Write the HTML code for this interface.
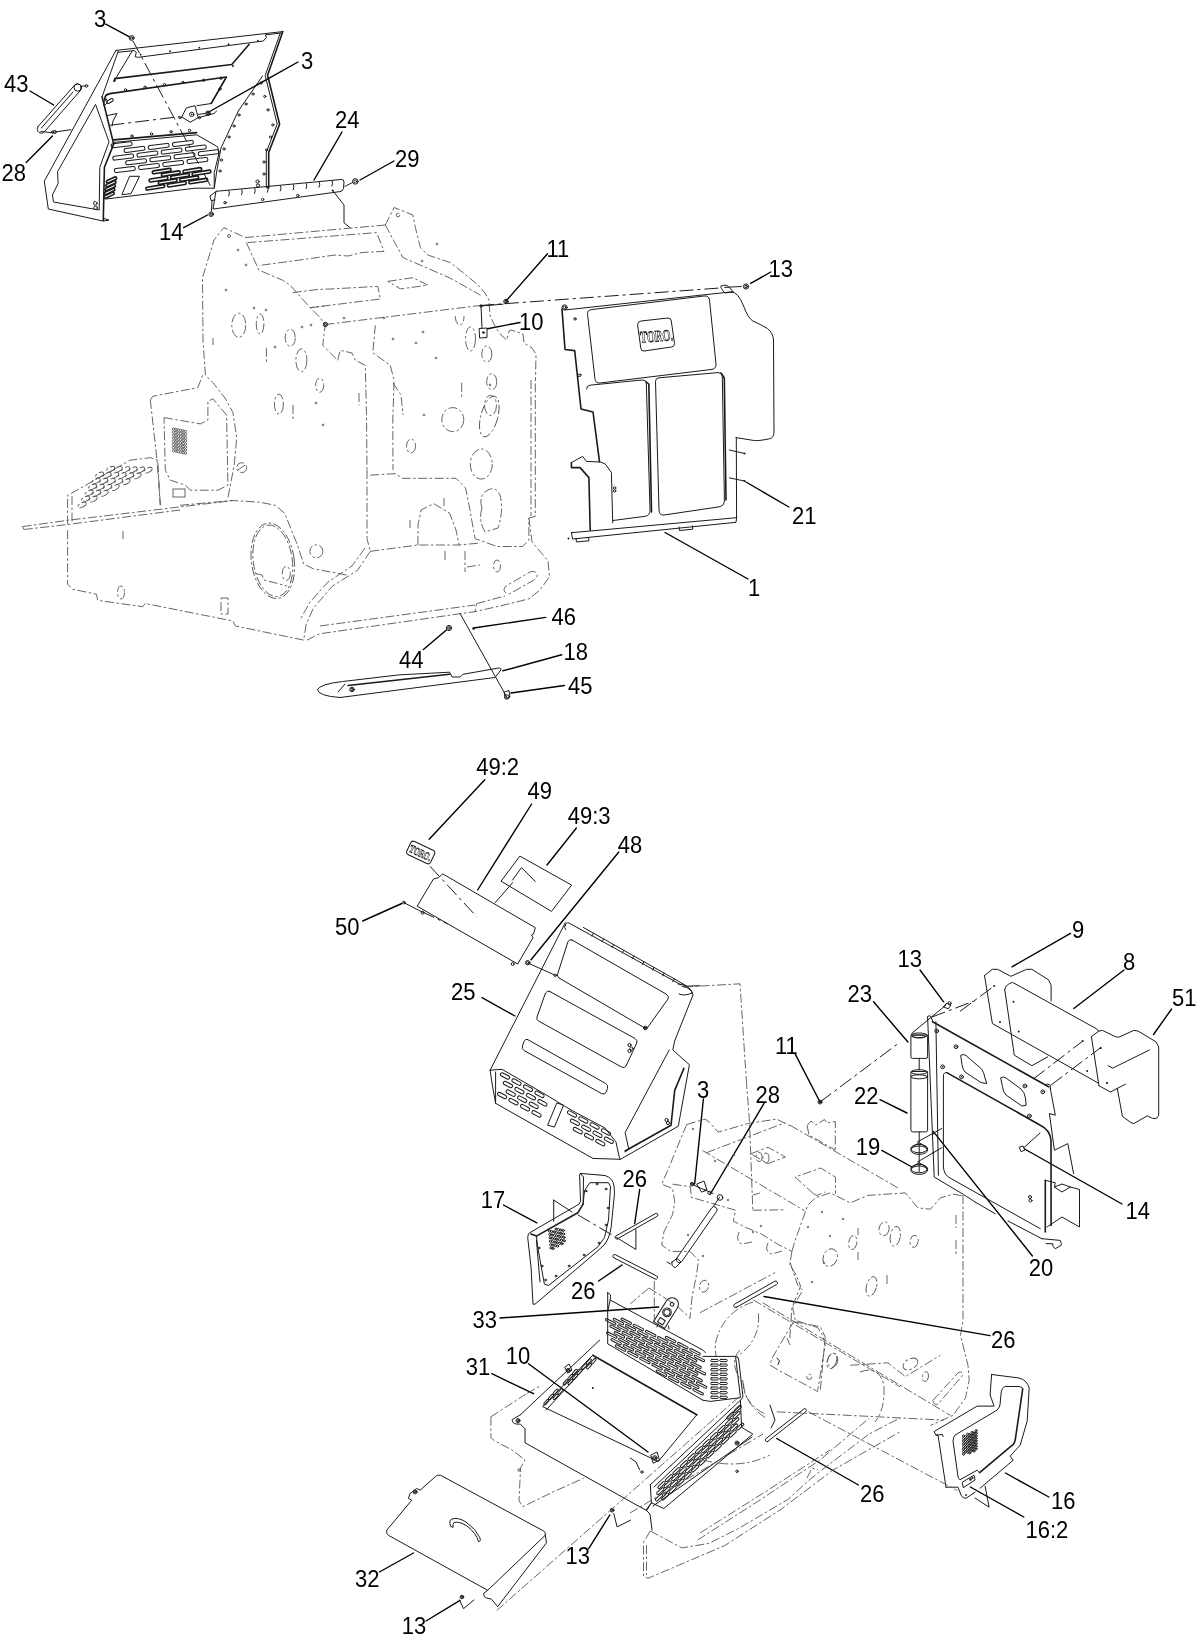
<!DOCTYPE html>
<html><head><meta charset="utf-8"><title>Parts diagram</title><style>
html,body{margin:0;padding:0;background:#fff;overflow:hidden}
svg{display:block;will-change:transform}
.k{fill:none;stroke:#1a1a1a;stroke-width:1;stroke-linejoin:round;stroke-linecap:round}
.kt{fill:none;stroke:#1a1a1a;stroke-width:1.6;stroke-linejoin:round;stroke-linecap:round}
.g{fill:none;stroke:#555;stroke-width:0.9;stroke-dasharray:9 2.5 2.5 2.5}
.gs{fill:none;stroke:#555;stroke-width:0.9}
.d{fill:none;stroke:#1a1a1a;stroke-width:1;stroke-dasharray:14 4 3 4}
.L{fill:none;stroke:#000;stroke-width:1.4;stroke-linecap:round}
.f{fill:#1a1a1a;stroke:none}
text{font-family:"Liberation Sans",sans-serif;font-size:22px;fill:#000}
</style></head>
<body><svg width="1198" height="1642" viewBox="0 0 1198 1642">
<line class="L" x1="105.8" y1="24.2" x2="129" y2="36.7"/>
<line class="L" x1="30" y1="91" x2="53.7" y2="105"/>
<line class="L" x1="26.2" y1="162.5" x2="52.5" y2="136"/>
<line class="L" x1="183.7" y1="227.6" x2="207.5" y2="215"/>
<line class="L" x1="298" y1="62" x2="207" y2="113"/>
<line class="L" x1="342" y1="132" x2="314" y2="180"/>
<line class="L" x1="394" y1="161" x2="360" y2="180"/>
<line class="L" x1="547.5" y1="253.7" x2="506" y2="301"/>
<line class="L" x1="520" y1="322.5" x2="487.5" y2="328.7"/>
<line class="L" x1="770.8" y1="272" x2="750.7" y2="283.4"/>
<line class="L" x1="788.9" y1="507" x2="746" y2="482"/>
<line class="L" x1="748" y1="579" x2="665" y2="532.5"/>
<line class="L" x1="545.7" y1="617.4" x2="473.6" y2="628"/>
<line class="L" x1="561.7" y1="654.8" x2="503" y2="670.8"/>
<line class="L" x1="564.4" y1="685.5" x2="511" y2="693"/>
<line class="L" x1="423.4" y1="649.5" x2="446.4" y2="630"/>
<path class="k" d="M116.0,50.4 L44.3,181.2 L48.3,209.0 L103.3,221.1 L109.0,220.0 L103.6,218.5" />
<path class="k" d="M118.3,51.0 L102.1,96.7" />
<path class="kt" d="M102.1,96.7 L113.7,144.1 L104.4,167.3 L103.3,220.5" />
<path class="k" d="M95.7,104.8 L109.0,141.8 L99.8,167.3 L99.2,210.0 L53.5,202.0 L52.4,195.0 L58.1,183.5 L57.6,172.0 Z" />
<circle class="k" cx="95.3" cy="203.3" r="1.8"/>
<circle class="k" cx="95.6" cy="207.8" r="1.8"/>
<path class="k" d="M116.0,50.4 L282.8,31.6" />
<path class="k" d="M118.0,52.3 L134.2,50.6 L136.3,52.2 L135.3,56.9 L138.5,57.3 L263.3,41.0 L266.3,37.5 L265.5,34.8 L281.2,33.0" />
<circle class="f" cx="140.7" cy="54.7" r="0.9"/>
<circle class="f" cx="170.0" cy="51.18" r="0.9"/>
<circle class="f" cx="199.29999999999998" cy="47.660000000000004" r="0.9"/>
<circle class="f" cx="228.6" cy="44.14" r="0.9"/>
<circle class="f" cx="257.9" cy="40.620000000000005" r="0.9"/>
<path class="kt" d="M282.8,31.6 L267.6,75.3 L279.6,124.2 L268.7,152.4 L268.7,188.0" />
<path class="k" d="M280.3,33.0 L265.2,75.5 L277.2,124.0 L266.3,152.2 L266.3,188.0" />
<path class="k" d="M262.5,76.0 L238.3,111.0 L221.0,148.0 L216.6,172.0 L214.5,187.0" />
<circle class="k" cx="261" cy="83" r="1.1"/>
<circle class="k" cx="253" cy="94" r="1.1"/>
<circle class="k" cx="246" cy="104" r="1.1"/>
<circle class="k" cx="239" cy="115" r="1.1"/>
<circle class="k" cx="234" cy="126" r="1.1"/>
<circle class="k" cx="229" cy="137" r="1.1"/>
<circle class="k" cx="224" cy="149" r="1.1"/>
<circle class="k" cx="221.5" cy="160" r="1.1"/>
<circle class="k" cx="220" cy="171" r="1.1"/>
<circle class="k" cx="264.8" cy="96.4" r="1.1"/>
<circle class="k" cx="268.0" cy="109.9" r="1.1"/>
<circle class="k" cx="272.8" cy="124.9" r="1.1"/>
<circle class="k" cx="270.5" cy="137" r="1.1"/>
<circle class="k" cx="266.5" cy="150" r="1.1"/>
<circle class="k" cx="264.0" cy="162" r="1.1"/>
<circle class="k" cx="264.0" cy="174" r="1.1"/>
<circle class="k" cx="257.5" cy="181.5" r="1.6"/>
<circle class="k" cx="258" cy="185.5" r="1.6"/>
<path class="k" d="M132.2,51.0 L113.7,81.7" />
<path class="kt" d="M114.7,78.6 L231.8,64.5 L249.2,44.3" />
<circle class="f" cx="114.5" cy="80.5" r="1.2"/>
<circle class="f" cx="233" cy="66" r="1.0"/>
<path class="kt" d="M104.5,100 Q104.5,94.5 110,93.6 L226.4,77 L211.2,103.5" />
<circle class="k" cx="125.5" cy="89.9" r="1.2"/>
<circle class="k" cx="145" cy="87.3" r="1.2"/>
<circle class="k" cx="164.5" cy="84.7" r="1.2"/>
<circle class="k" cx="183" cy="82.5" r="1.2"/>
<circle class="k" cx="203.6" cy="80.3" r="1.2"/>
<circle class="k" cx="221" cy="78.2" r="1.2"/>
<circle class="k" cx="219.9" cy="89" r="1.2"/>
<path class="k" d="M106,99 Q103,104 104,106 L107,103 Q108,99 106,99 Z" />
<rect class="k" x="106.5" y="99.5" width="7" height="3" rx="1.5" transform="rotate(-30 110.0 101.0)"/>
<path class="k" d="M181.9,116.6 L186.3,107.9 L195.0,105.7 L198.2,117.7 L190.6,122.0 Z" />
<circle class="k" cx="191.7" cy="114.4" r="2.2"/>
<circle class="f" cx="191.7" cy="114.4" r="0.8"/>
<circle class="k" cx="180" cy="117.7" r="1.1"/>
<circle class="k" cx="199.5" cy="117.7" r="1.1"/>
<path class="k" d="M211.2,103.5 L197.0,105.7" />
<path class="k" d="M198.2,117.7 L214.0,113.5 L216.6,111.0" />
<path class="d" d="M110.3,125.2 L179.7,116.6" />
<path class="k" d="M107.5,115.5 L117.0,113.5 L113.0,121.0 L112.0,126.0" />
<path class="kt" d="M113.7,139.9 L196.7,132.6" />
<path class="k" d="M113.7,142.4 L196.7,134.8 L217.7,146.9 L218.9,153.9 L214.2,172.6 L214.2,187.8" />
<path class="k" d="M106.0,199.0 L195.0,188.2 L214.5,188.2" />
<circle class="k" cx="132" cy="136.1" r="1.2"/>
<circle class="k" cx="151.5" cy="134" r="1.2"/>
<circle class="k" cx="171" cy="131.8" r="1.2"/>
<circle class="k" cx="189.5" cy="130.5" r="1.2"/>
<rect class="k" x="111.1" y="142.7" width="21" height="4.0" rx="2.0" transform="rotate(-7 121.6 144.7)"/>
<rect class="k" x="124.0" y="147.4" width="21" height="4.0" rx="2.0" transform="rotate(-7 134.5 149.4)"/>
<rect class="k" x="148.2" y="144.4" width="21" height="4.0" rx="2.0" transform="rotate(-7 158.7 146.4)"/>
<rect class="k" x="172.4" y="141.4" width="21" height="4.0" rx="2.0" transform="rotate(-7 182.9 143.4)"/>
<rect class="k" x="112.7" y="155.1" width="21" height="4.0" rx="2.0" transform="rotate(-7 123.2 157.1)"/>
<rect class="k" x="136.9" y="152.1" width="21" height="4.0" rx="2.0" transform="rotate(-7 147.4 154.1)"/>
<rect class="k" x="161.1" y="149.1" width="21" height="4.0" rx="2.0" transform="rotate(-7 171.6 151.1)"/>
<rect class="k" x="185.3" y="146.1" width="21" height="4.0" rx="2.0" transform="rotate(-7 195.8 148.1)"/>
<rect class="k" x="125.6" y="159.8" width="21" height="4.0" rx="2.0" transform="rotate(-7 136.1 161.8)"/>
<rect class="k" x="149.8" y="156.8" width="21" height="4.0" rx="2.0" transform="rotate(-7 160.3 158.8)"/>
<rect class="k" x="174.0" y="153.8" width="21" height="4.0" rx="2.0" transform="rotate(-7 184.5 155.8)"/>
<rect class="k" x="198.2" y="150.8" width="21" height="4.0" rx="2.0" transform="rotate(-7 208.7 152.8)"/>
<rect class="k" x="114.3" y="167.5" width="21" height="4.0" rx="2.0" transform="rotate(-7 124.8 169.5)"/>
<rect class="k" x="138.5" y="164.5" width="21" height="4.0" rx="2.0" transform="rotate(-7 149.0 166.5)"/>
<rect class="k" x="162.7" y="161.5" width="21" height="4.0" rx="2.0" transform="rotate(-7 173.2 163.5)"/>
<rect class="k" x="186.9" y="158.5" width="21" height="4.0" rx="2.0" transform="rotate(-7 197.4 160.5)"/>
<rect class="kt" x="152.2" y="169.6" width="19" height="2.9" rx="1.45" transform="rotate(-9 161.7 171.0)"/>
<rect class="kt" x="161.3" y="172.1" width="19" height="2.9" rx="1.45" transform="rotate(-9 170.8 173.5)"/>
<rect class="kt" x="182.8" y="168.9" width="19" height="2.9" rx="1.45" transform="rotate(-9 192.3 170.3)"/>
<rect class="kt" x="149.0" y="177.8" width="19" height="2.9" rx="1.45" transform="rotate(-9 158.5 179.2)"/>
<rect class="kt" x="170.5" y="174.6" width="19" height="2.9" rx="1.45" transform="rotate(-9 180.0 176.0)"/>
<rect class="kt" x="192.0" y="171.4" width="19" height="2.9" rx="1.45" transform="rotate(-9 201.5 172.8)"/>
<rect class="kt" x="158.2" y="180.2" width="19" height="2.9" rx="1.45" transform="rotate(-9 167.7 181.7)"/>
<rect class="kt" x="179.7" y="177.1" width="19" height="2.9" rx="1.45" transform="rotate(-9 189.2 178.5)"/>
<rect class="kt" x="145.8" y="185.9" width="19" height="2.9" rx="1.45" transform="rotate(-9 155.3 187.4)"/>
<rect class="kt" x="167.3" y="182.8" width="19" height="2.9" rx="1.45" transform="rotate(-9 176.8 184.2)"/>
<rect class="kt" x="188.8" y="179.6" width="19" height="2.9" rx="1.45" transform="rotate(-9 198.3 181.0)"/>
<rect class="kt" x="106.0" y="178.7" width="11" height="2.6" rx="1.3" transform="rotate(-25 111.5 180.0)"/>
<rect class="kt" x="105.4" y="182.5" width="11" height="2.6" rx="1.3" transform="rotate(-25 110.9 183.8)"/>
<rect class="kt" x="104.8" y="186.3" width="11" height="2.6" rx="1.3" transform="rotate(-25 110.3 187.6)"/>
<rect class="kt" x="104.2" y="190.1" width="11" height="2.6" rx="1.3" transform="rotate(-25 109.7 191.4)"/>
<rect class="kt" x="103.6" y="193.9" width="11" height="2.6" rx="1.3" transform="rotate(-25 109.1 195.2)"/>
<path class="k" d="M130.0,176.3 L139.6,176.3 L131.0,193.6 L122.2,194.7 Z" />
<path class="k" d="M38,126.6 L75,84.7 A4,4 0 0 1 81,89.8 L44.6,131.5 A3.5,3.5 0 0 1 38,126.6 Z" />
<circle class="k" cx="77.6" cy="87.6" r="3.6"/>
<path class="k" d="M41.4,128.0 L73.0,92.0" />
<path class="k" d="M81.0,86.2 L86.0,86.0" />
<circle class="k" cx="86.5" cy="85.9" r="1.3"/>
<path class="k" d="M41.0,131.5 L50.0,132.5 L54.7,132.0 L70.9,129.7" />
<circle class="k" cx="54.7" cy="132" r="1.6"/>
<circle class="k" cx="52.5" cy="132.2" r="1.2"/>
<path class="k" d="M216.3,191.3 L341,179.5 Q344,179.2 344,182 L343.5,188.5 Q343,191.2 340,191.6 L213.4,209 Z" />
<path class="k" d="M229.0,190.9 q1.2,2 -0.3,5" />
<path class="k" d="M241.9,189.7 q1.2,2 -0.3,5" />
<path class="k" d="M254.8,188.5 q1.2,2 -0.3,5" />
<path class="k" d="M267.7,187.2 q1.2,2 -0.3,5" />
<path class="k" d="M280.6,186.0 q1.2,2 -0.3,5" />
<path class="k" d="M293.5,184.8 q1.2,2 -0.3,5" />
<path class="k" d="M306.4,183.6 q1.2,2 -0.3,5" />
<path class="k" d="M319.3,182.3 q1.2,2 -0.3,5" />
<path class="k" d="M332.2,181.1 q1.2,2 -0.3,5" />
<circle class="k" cx="225" cy="202.7" r="1.2"/>
<circle class="k" cx="262.6" cy="199.5" r="1.2"/>
<circle class="k" cx="297.7" cy="195.5" r="1.2"/>
<circle class="f" cx="332.7" cy="190.6" r="1.0"/>
<path class="k" d="M332.7,190.6 L337.0,196.0 L344.0,205.0 L344.0,222.7 L350.0,227.7" />
<path class="k" d="M345.0,186.4 L352.5,182.5" />
<circle class="k" cx="355.3" cy="181.4" r="2.8"/>
<circle class="k" cx="355.3" cy="181.4" r="1.4"/>
<path class="k" d="M216.3,191.3 L210.0,196.0 L211.0,200.5 L215.0,200.0" />
<path class="k" d="M212.0,200.5 L211.5,211.0" />
<circle class="k" cx="211.2" cy="214.2" r="2.3"/>
<circle class="k" cx="211.2" cy="214.2" r="1.15"/>
<circle class="k" cx="131.7" cy="38" r="2.4"/>
<circle class="k" cx="131.7" cy="38" r="1.2"/>
<path class="d" d="M133,41 L212.3,189.3" />
<path class="k" d="M198.2,114.4 L205.0,113.5" />
<circle class="k" cx="208" cy="113.3" r="2.3"/>
<circle class="k" cx="208" cy="113.3" r="1.15"/>
<path class="g" d="M242.6,236.3 L223.8,227.6 L214.0,240.0 L206.3,265.1 L202.5,277.7 L203.0,340.0 L205.4,375.0 L212.9,382.6 L225.0,398.0 L232.9,412.6 L236.7,437.6 L234.2,465.2 L227.9,497.8" />
<circle class="g" cx="229" cy="236" r="1.5"/>
<path class="g" d="M245.0,237.6 L385.3,225.0" />
<path class="g" d="M247.6,242.6 L376.6,232.6 L384.0,251.4 L362.0,252.5 L348.0,256.0 L335.0,255.0 L300.0,260.0 L259.0,265.5" />
<path class="g" d="M246.3,242.6 L258.9,270.1 L282.6,280.2 L290.2,285.2 L310.2,307.7 L320.2,317.7 L325.2,325.2 L322.7,345.3 L337.7,360.3" />
<path class="g" d="M292.7,292.7 L317.0,289.5 L330.0,289.0 L377.8,286.4 L380.3,299.0 L310.2,307.7" />
<path class="g" d="M387.8,281.4 L413.0,277.7 L427.9,285.2 L400.4,288.9 Z" />
<path class="g" d="M385.3,225.0 L394.1,207.5 L412.9,215.0 L415.4,227.6 L420.4,247.6 L427.9,255.1 L450.4,262.6 L463.0,272.6 L478.0,285.0 L485.0,293.0 L489.0,300.0 L490.0,316.0 L496.0,328.0 L502.0,336.0 L507.0,340.0 L509.0,331.0 L511.0,330.0 L523.0,334.0 L524.0,343.0 L532.0,348.0 L536.0,354.0 L535.5,380.0" />
<path class="g" d="M385.3,225.0 L402.9,257.6 L420.0,265.0 L450.0,278.0 L480.5,295.2" />
<circle class="g" cx="398" cy="215" r="1.8"/>
<path class="g" d="M310.2,307.7 L325.0,306.0" />
<circle class="k" cx="325.5" cy="324.5" r="2.2"/>
<circle class="k" cx="325.5" cy="324.5" r="1.1"/>
<path class="d" d="M480,305.5 L720,288" />
<path class="g" d="M325.5,324.5 L480.0,305.5" />
<circle class="k" cx="506" cy="301.5" r="2.3"/>
<circle class="k" cx="506" cy="301.5" r="1.15"/>
<path class="k" d="M481.0,306.0 L482.0,328.0" />
<path class="k" d="M479.5,328.5 L487,328 L487,337.5 L480,338 Z" />
<circle class="f" cx="483.5" cy="332.5" r="1.3"/>
<path class="k" d="M481.0,306.0 L503.0,304.2" />
<circle class="k" cx="481" cy="306" r="1.2"/>
<path class="g" d="M455,316 Q456,325 460,325 Q464,324 464,316" />
<path class="g" d="M337.7,360.3 L340.2,350.3 L352.0,353.0 L355.3,360.3 L365.3,365.3 L366.5,415.4 L367.0,470.0" />
<path class="g" d="M375.3,325.2 L372.8,352.8 L390.3,365.3 L394.1,380.3 L392.8,420.0 L393.0,470.0" />
<path class="g" d="M393.0,383.0 L401.0,395.0 L403.0,415.0" />
<ellipse class="g" cx="238.8" cy="325.2" rx="7" ry="12"/>
<ellipse class="g" cx="260.1" cy="324" rx="3.8" ry="10"/>
<ellipse class="g" cx="290.2" cy="337.8" rx="5" ry="8.5"/>
<ellipse class="g" cx="301.4" cy="360.3" rx="5.5" ry="11.5"/>
<ellipse class="g" cx="319.7" cy="385.3" rx="4" ry="7"/>
<ellipse class="g" cx="278.9" cy="404.1" rx="4.5" ry="10"/>
<ellipse class="g" cx="470.5" cy="339" rx="5" ry="12"/>
<ellipse class="g" cx="486.8" cy="354" rx="5" ry="8"/>
<ellipse class="g" cx="491.7" cy="381.6" rx="5" ry="8"/>
<ellipse class="g" cx="490.5" cy="405.4" rx="6" ry="10"/>
<path class="g" d="M266.4,347.8 L266.4,362.8" />
<path class="g" d="M359.0,393.0 L359.0,405.4" />
<path class="g" d="M461.7,382.8 L461.7,397.9" />
<path class="g" d="M293.0,405.0 L293.0,420.0" />
<path class="g" d="M213.0,338.0 L213.0,345.0" />
<circle class="g" cx="238" cy="250" r="0.9"/>
<circle class="g" cx="246" cy="265" r="0.9"/>
<circle class="g" cx="226" cy="290" r="0.9"/>
<circle class="g" cx="254" cy="308" r="0.9"/>
<circle class="g" cx="266" cy="310" r="0.9"/>
<circle class="g" cx="275" cy="347" r="0.9"/>
<circle class="g" cx="302" cy="327" r="0.9"/>
<circle class="g" cx="311" cy="325" r="0.9"/>
<circle class="g" cx="344" cy="318" r="0.9"/>
<circle class="g" cx="384" cy="318" r="0.9"/>
<circle class="g" cx="393" cy="339" r="0.9"/>
<circle class="g" cx="423" cy="332" r="0.9"/>
<circle class="g" cx="436" cy="358" r="0.9"/>
<circle class="g" cx="416" cy="343" r="0.9"/>
<circle class="g" cx="437" cy="244" r="0.9"/>
<circle class="g" cx="422" cy="261" r="0.9"/>
<circle class="g" cx="490" cy="385" r="0.9"/>
<circle class="g" cx="424" cy="415" r="0.9"/>
<circle class="g" cx="316" cy="403" r="0.9"/>
<circle class="g" cx="323" cy="425" r="0.9"/>
<path class="g" d="M367.0,470.0 L367.0,538.6 L370.3,551.3" />
<path class="g" d="M370.3,475.2 L395.7,473.6 L402.0,478.3 L456.0,478.3 L465.5,487.8 L470.0,510.0 L475.0,538.6 L497.2,546.5 L522.6,546.5 L528.9,540.2 L528.9,518.0 L535.3,516.4 L535.3,380.0" />
<path class="g" d="M531.0,380.0 L531.0,516.0" />
<path class="g" d="M528.9,518.0 L532.0,541.8 L548.0,560.8 L549.5,576.7 L540.0,590.0 L528.9,598.9 L500.0,606.0 L475.0,611.6" />
<path class="g" d="M417.9,545.0 L418.0,525.0 L421.1,510.0 L433.8,503.7 L449.6,513.2 L456.0,530.0 L459.1,545.0" />
<path class="g" d="M370.3,551.3 L417.9,545.0 L459.1,545.0 L480.0,543.0" />
<path class="g" d="M506,593 Q502,590 506,586 L530,572 Q535,570 537,574 Q538,577 534,580 L511,593 Q508,595 506,593 Z" />
<ellipse class="g" cx="452.8" cy="419.6" rx="11" ry="12"/>
<ellipse class="g" cx="489.3" cy="416.5" rx="8.5" ry="21" transform="rotate(15 489.3 416.5)"/>
<ellipse class="g" cx="481.3" cy="464" rx="11" ry="15"/>
<path class="g" d="M482,508 Q478,495 488,490 Q496,486 500,495 Q504,510 498,528 L485,532 Q478,520 482,508 Z" />
<ellipse class="g" cx="411" cy="446" rx="4.5" ry="7"/>
<ellipse class="g" cx="497" cy="566" rx="3.5" ry="6"/>
<path class="g" d="M444.0,498.0 L444.0,506.0" />
<path class="g" d="M465.0,551.0 L465.0,572.0" />
<path class="g" d="M410.0,520.0 L410.0,528.0" />
<path class="g" d="M445.0,551.0 L445.0,560.0" />
<path class="g" d="M467.0,567.0 L480.0,565.0" />
<path class="g" d="M370.3,551.3 L357.6,570.3 L332.3,586.2 L313.2,608.4 L306.0,625.0 L303.7,640.1" />
<path class="g" d="M365.0,548.0 L352.0,566.0 L328.0,582.0 L310.0,602.0 L300.0,620.0" />
<path class="g" d="M306.9,640.1 L319.6,633.8 L475.0,611.6 L476.6,603.6" />
<path class="g" d="M320.0,626.0 L475.0,605.0" />
<path class="g" d="M476.6,603.6 L505.0,596.0" />
<path class="g" d="M180.0,505.3 L232.3,500.5 L259.3,502.1 L275.2,505.3 L284.7,513.2 L297.4,545.0 L303.7,564.0 L313.2,568.7 L346.5,575.0" />
<path class="g" d="M67.6,530.3 L67.6,584.2 L72.6,589.2 L96.4,594.2 L97.7,600.4 L142.7,606.7 L145.2,603.5 L232.9,621.0 L235.4,626.0 L303.7,640.1" />
<path class="g" d="M22.5,526.6 L67.6,520.3 L235.4,500.3" />
<path class="g" d="M23.8,529.5 L67.6,524.5 L180.0,510.0" />
<path class="g" d="M22.5,526.6 L23.8,529.5" />
<ellipse class="g" cx="272.8" cy="560.8" rx="21.4" ry="38" transform="rotate(-8 272.8 560.8)"/>
<ellipse class="g" cx="272.8" cy="560.8" rx="19.5" ry="36" transform="rotate(-8 272.8 560.8)"/>
<path class="g" d="M256.0,573.5 L262.0,575.0 L264.0,580.0 L287.0,586.0" />
<ellipse class="g" cx="286.3" cy="573.5" rx="4" ry="7"/>
<circle class="g" cx="316.4" cy="551.3" r="6.5"/>
<ellipse class="g" cx="121" cy="592.5" rx="3.5" ry="6.5"/>
<rect class="g" x="221" y="598" width="7" height="16"/>
<path class="g" d="M123.0,531.0 L123.0,539.0" />
<path class="g" d="M67.6,524.5 L67.6,495.3 L70.1,494.0 L130.2,460.2 L150.3,457.7 L157.8,460.2 L160.3,505.3" />
<path class="g" d="M72.0,496.0 L72.0,522.0" />
<ellipse class="g" cx="82.0" cy="505.0" rx="4.5" ry="2.2" transform="rotate(-28 82.0 505.0)"/>
<ellipse class="g" cx="93.0" cy="499.2" rx="4.5" ry="2.2" transform="rotate(-28 93.0 499.2)"/>
<ellipse class="g" cx="104.0" cy="493.4" rx="4.5" ry="2.2" transform="rotate(-28 104.0 493.4)"/>
<ellipse class="g" cx="115.0" cy="487.6" rx="4.5" ry="2.2" transform="rotate(-28 115.0 487.6)"/>
<ellipse class="g" cx="126.0" cy="481.8" rx="4.5" ry="2.2" transform="rotate(-28 126.0 481.8)"/>
<ellipse class="g" cx="137.0" cy="476.0" rx="4.5" ry="2.2" transform="rotate(-28 137.0 476.0)"/>
<ellipse class="g" cx="148.0" cy="470.2" rx="4.5" ry="2.2" transform="rotate(-28 148.0 470.2)"/>
<ellipse class="g" cx="85.5" cy="499.0" rx="4.5" ry="2.2" transform="rotate(-28 85.5 499.0)"/>
<ellipse class="g" cx="96.5" cy="493.2" rx="4.5" ry="2.2" transform="rotate(-28 96.5 493.2)"/>
<ellipse class="g" cx="107.5" cy="487.4" rx="4.5" ry="2.2" transform="rotate(-28 107.5 487.4)"/>
<ellipse class="g" cx="118.5" cy="481.6" rx="4.5" ry="2.2" transform="rotate(-28 118.5 481.6)"/>
<ellipse class="g" cx="129.5" cy="475.8" rx="4.5" ry="2.2" transform="rotate(-28 129.5 475.8)"/>
<ellipse class="g" cx="140.5" cy="470.0" rx="4.5" ry="2.2" transform="rotate(-28 140.5 470.0)"/>
<ellipse class="g" cx="89.0" cy="493.0" rx="4.5" ry="2.2" transform="rotate(-28 89.0 493.0)"/>
<ellipse class="g" cx="100.0" cy="487.2" rx="4.5" ry="2.2" transform="rotate(-28 100.0 487.2)"/>
<ellipse class="g" cx="111.0" cy="481.4" rx="4.5" ry="2.2" transform="rotate(-28 111.0 481.4)"/>
<ellipse class="g" cx="122.0" cy="475.6" rx="4.5" ry="2.2" transform="rotate(-28 122.0 475.6)"/>
<ellipse class="g" cx="133.0" cy="469.8" rx="4.5" ry="2.2" transform="rotate(-28 133.0 469.8)"/>
<ellipse class="g" cx="92.5" cy="487.0" rx="4.5" ry="2.2" transform="rotate(-28 92.5 487.0)"/>
<ellipse class="g" cx="103.5" cy="481.2" rx="4.5" ry="2.2" transform="rotate(-28 103.5 481.2)"/>
<ellipse class="g" cx="114.5" cy="475.4" rx="4.5" ry="2.2" transform="rotate(-28 114.5 475.4)"/>
<ellipse class="g" cx="125.5" cy="469.6" rx="4.5" ry="2.2" transform="rotate(-28 125.5 469.6)"/>
<ellipse class="g" cx="96.0" cy="481.0" rx="4.5" ry="2.2" transform="rotate(-28 96.0 481.0)"/>
<ellipse class="g" cx="107.0" cy="475.2" rx="4.5" ry="2.2" transform="rotate(-28 107.0 475.2)"/>
<ellipse class="g" cx="118.0" cy="469.4" rx="4.5" ry="2.2" transform="rotate(-28 118.0 469.4)"/>
<ellipse class="g" cx="99.5" cy="475.0" rx="4.5" ry="2.2" transform="rotate(-28 99.5 475.0)"/>
<ellipse class="g" cx="110.5" cy="469.2" rx="4.5" ry="2.2" transform="rotate(-28 110.5 469.2)"/>
<path class="g" d="M150.3,400.0 L152.8,396.3 L197.8,387.6 L202.8,375.0" />
<path class="g" d="M150.3,400.0 L157.0,460.0 L160.3,505.3" />
<path class="g" d="M164.0,417.6 L200.4,423.9 L207.9,420.1 L207.9,401.3 L212.9,398.8 L226.6,415.1 L227.9,485.2 L217.9,490.2 L190.3,490.2 L185.3,485.2 L170.3,480.2 L165.3,470.2 Z" />
<circle class="g" cx="173.5" cy="429.0" r="1.2" style="stroke-dasharray:none"/>
<circle class="g" cx="173.5" cy="432.1" r="1.2" style="stroke-dasharray:none"/>
<circle class="g" cx="173.5" cy="435.2" r="1.2" style="stroke-dasharray:none"/>
<circle class="g" cx="173.5" cy="438.3" r="1.2" style="stroke-dasharray:none"/>
<circle class="g" cx="173.5" cy="441.4" r="1.2" style="stroke-dasharray:none"/>
<circle class="g" cx="173.5" cy="444.5" r="1.2" style="stroke-dasharray:none"/>
<circle class="g" cx="173.5" cy="447.6" r="1.2" style="stroke-dasharray:none"/>
<circle class="g" cx="173.5" cy="450.7" r="1.2" style="stroke-dasharray:none"/>
<circle class="g" cx="175.9" cy="429.5" r="1.2" style="stroke-dasharray:none"/>
<circle class="g" cx="175.9" cy="432.6" r="1.2" style="stroke-dasharray:none"/>
<circle class="g" cx="175.9" cy="435.7" r="1.2" style="stroke-dasharray:none"/>
<circle class="g" cx="175.9" cy="438.8" r="1.2" style="stroke-dasharray:none"/>
<circle class="g" cx="175.9" cy="441.9" r="1.2" style="stroke-dasharray:none"/>
<circle class="g" cx="175.9" cy="445.0" r="1.2" style="stroke-dasharray:none"/>
<circle class="g" cx="175.9" cy="448.1" r="1.2" style="stroke-dasharray:none"/>
<circle class="g" cx="175.9" cy="451.2" r="1.2" style="stroke-dasharray:none"/>
<circle class="g" cx="178.3" cy="430.0" r="1.2" style="stroke-dasharray:none"/>
<circle class="g" cx="178.3" cy="433.1" r="1.2" style="stroke-dasharray:none"/>
<circle class="g" cx="178.3" cy="436.2" r="1.2" style="stroke-dasharray:none"/>
<circle class="g" cx="178.3" cy="439.3" r="1.2" style="stroke-dasharray:none"/>
<circle class="g" cx="178.3" cy="442.4" r="1.2" style="stroke-dasharray:none"/>
<circle class="g" cx="178.3" cy="445.5" r="1.2" style="stroke-dasharray:none"/>
<circle class="g" cx="178.3" cy="448.6" r="1.2" style="stroke-dasharray:none"/>
<circle class="g" cx="178.3" cy="451.7" r="1.2" style="stroke-dasharray:none"/>
<circle class="g" cx="180.7" cy="430.5" r="1.2" style="stroke-dasharray:none"/>
<circle class="g" cx="180.7" cy="433.6" r="1.2" style="stroke-dasharray:none"/>
<circle class="g" cx="180.7" cy="436.7" r="1.2" style="stroke-dasharray:none"/>
<circle class="g" cx="180.7" cy="439.8" r="1.2" style="stroke-dasharray:none"/>
<circle class="g" cx="180.7" cy="442.9" r="1.2" style="stroke-dasharray:none"/>
<circle class="g" cx="180.7" cy="446.0" r="1.2" style="stroke-dasharray:none"/>
<circle class="g" cx="180.7" cy="449.1" r="1.2" style="stroke-dasharray:none"/>
<circle class="g" cx="180.7" cy="452.2" r="1.2" style="stroke-dasharray:none"/>
<circle class="g" cx="183.1" cy="431.0" r="1.2" style="stroke-dasharray:none"/>
<circle class="g" cx="183.1" cy="434.1" r="1.2" style="stroke-dasharray:none"/>
<circle class="g" cx="183.1" cy="437.2" r="1.2" style="stroke-dasharray:none"/>
<circle class="g" cx="183.1" cy="440.3" r="1.2" style="stroke-dasharray:none"/>
<circle class="g" cx="183.1" cy="443.4" r="1.2" style="stroke-dasharray:none"/>
<circle class="g" cx="183.1" cy="446.5" r="1.2" style="stroke-dasharray:none"/>
<circle class="g" cx="183.1" cy="449.6" r="1.2" style="stroke-dasharray:none"/>
<circle class="g" cx="183.1" cy="452.7" r="1.2" style="stroke-dasharray:none"/>
<circle class="g" cx="185.5" cy="431.5" r="1.2" style="stroke-dasharray:none"/>
<circle class="g" cx="185.5" cy="434.6" r="1.2" style="stroke-dasharray:none"/>
<circle class="g" cx="185.5" cy="437.7" r="1.2" style="stroke-dasharray:none"/>
<circle class="g" cx="185.5" cy="440.8" r="1.2" style="stroke-dasharray:none"/>
<circle class="g" cx="185.5" cy="443.9" r="1.2" style="stroke-dasharray:none"/>
<circle class="g" cx="185.5" cy="447.0" r="1.2" style="stroke-dasharray:none"/>
<circle class="g" cx="185.5" cy="450.1" r="1.2" style="stroke-dasharray:none"/>
<circle class="g" cx="185.5" cy="453.2" r="1.2" style="stroke-dasharray:none"/>
<rect class="gs" x="173" y="489" width="12" height="8"/>
<circle class="g" cx="241.7" cy="467.7" r="5"/>
<path class="g" d="M238.0,470.0 L245.0,465.0" />
<path class="k" d="M317.4,689.5 Q320,684 342.7,681.5 L398.8,674.9 L449.6,672.2 L452.2,677 L460.3,677 L462.9,674.3 L497.6,668.2 Q502,667.5 500.9,670 L495,677.5 L340,697.5 Q318,696 317.4,689.5 Z" />
<path class="kt" d="M348.0,685.5 L449.6,674.3" />
<circle class="k" cx="352" cy="689.5" r="2.3"/>
<circle class="k" cx="352" cy="689.5" r="1.15"/>
<path class="k" d="M338.0,692.0 L345.0,684.0" />
<path class="k" d="M460.0,613.4 L507.0,697.5" />
<circle class="k" cx="449" cy="628" r="2.6"/>
<circle class="k" cx="449" cy="628" r="1.3"/>
<circle class="f" cx="473.6" cy="628.5" r="1.3"/>
<path class="k" d="M504.5,692 L509,690.5 L510,697 L505.5,698.5 Z" />
<circle class="k" cx="507" cy="697" r="2.2"/>
<circle class="k" cx="564.6" cy="307.4" r="2.6"/>
<circle class="k" cx="564.6" cy="307.4" r="1.3"/>
<path class="k" d="M565.0,310.0 L731.7,291.8" />
<path class="k" d="M731.7,291.8 Q738,292 743.6,306 Q748,318 752.8,321 Q760,324 767.5,328.6 Q773,333 773.5,340 L774,432 Q774,438 769.4,438.8 Q760,440.8 754.7,440.6 L736,437.6" />
<path class="kt" d="M562.0,309.0 L565.0,349.5 L574.7,350.6 L581.0,409.0 L593.0,412.0 L599.5,461.7" />
<path class="k" d="M599.5,461.7 L605.2,463.9 L611.4,472.6 L612.7,522.7" />
<path class="k" d="M571.4,462.6 L582.6,456.3 L586.4,461.4 L599.5,462.0" />
<path class="kt" d="M571.4,462.6 L571.4,467.6 L580.1,467.6 L588.9,477.6 L590.2,530.2" />
<path class="k" d="M736.3,437.6 L736.6,517.7" />
<path class="k" d="M571.4,532.7 L736.6,517.7" />
<path class="k" d="M571.4,532.7 L572.6,539.0 L736.0,522.3 L736.6,517.7" />
<path class="k" d="M576,538.5 L576.5,542 L589,540.8 L588.5,537.5" />
<path class="k" d="M679,527 L679.5,530.5 L692.8,529.2 L692.3,525.8" />
<circle class="f" cx="568.5" cy="538.5" r="0.9"/>
<path class="k" d="M587.5,314 Q587,310 592,309.5 L704,296 Q709,295.5 709.5,300 L716,364 Q716.5,369 711,369.5 L600,383 Q595.5,383.5 595,379 Z" />
<path class="k" d="M637.6,324.5 Q637.6,321.5 641,321 L668,318 Q671,317.8 671.3,321 L674.5,343.5 Q674.8,346.5 671.5,347 L644,351 Q641,351.3 640.8,348.3 Z" />
<text x="640" y="341.5" style="font-family:'Liberation Serif',serif;font-size:16px;font-weight:bold;fill:#fff;stroke:#111;stroke-width:0.8" transform="rotate(-4 656 335)" textLength="33" lengthAdjust="spacingAndGlyphs">TORO.</text>
<path class="k" d="M586.6,389 Q586.6,385.5 590,385.2 L642,380 Q646,379.6 646.3,383 L650,510 Q650.3,515.6 645,516.3 L613,520.5" />
<path class="kt" d="M646.3,382.0 L648.8,384.0 L651.5,512.0" />
<path class="k" d="M655.5,381 Q655.5,378 659,377.8 L718,372.6 Q722,372.4 722.3,376 L724.4,500 Q724.6,506.5 718,507 L664,515 Q659,515.5 659,510 Z" />
<path class="kt" d="M721.0,373.0 L724.3,378.0 L726.0,500.0" />
<circle class="k" cx="575" cy="318.9" r="1.2"/>
<path class="k" d="M578,374.5 l3,-0.5 l0,2 l-3,0.5 z" />
<path class="k" d="M729.5,450.0 L744.5,453.5" />
<circle class="f" cx="744.5" cy="453.5" r="1.1"/>
<path class="k" d="M729.5,477.9 L744.5,481.0" />
<circle class="f" cx="744.5" cy="481" r="1.1"/>
<path class="k" d="M733,292 L725,293 Q720,288 721,286 Q725,284 728,286 Z" />
<path class="k" d="M724.7,287.4 L741.4,286.5" />
<circle class="k" cx="746" cy="286.5" r="2.6"/>
<circle class="k" cx="746" cy="286.5" r="1.3"/>
<circle class="k" cx="614.6" cy="488" r="1.2"/>
<circle class="k" cx="614.6" cy="491" r="1.2"/>
<line class="L" x1="484.8" y1="779.7" x2="429.2" y2="839.3"/>
<line class="L" x1="531.6" y1="804" x2="477.6" y2="890"/>
<line class="L" x1="576.4" y1="828" x2="547" y2="865"/>
<line class="L" x1="618.8" y1="852" x2="531" y2="959.7"/>
<line class="L" x1="362.7" y1="921" x2="401.8" y2="903.5"/>
<line class="L" x1="482" y1="997.7" x2="515" y2="1016"/>
<line class="L" x1="1070.5" y1="933.4" x2="1012" y2="966.8"/>
<line class="L" x1="1124" y1="970" x2="1073.8" y2="1008.5"/>
<line class="L" x1="1171.6" y1="1009" x2="1153.5" y2="1034.5"/>
<line class="L" x1="920" y1="970" x2="943.6" y2="1001.8"/>
<line class="L" x1="873.5" y1="1001.8" x2="907.9" y2="1042"/>
<line class="L" x1="795" y1="1053.6" x2="820" y2="1102"/>
<line class="L" x1="880" y1="1099.7" x2="907" y2="1113"/>
<line class="L" x1="881.8" y1="1150.4" x2="912" y2="1167"/>
<line class="L" x1="703.4" y1="1099" x2="694.7" y2="1183.7"/>
<line class="L" x1="764" y1="1103.4" x2="710" y2="1194.5"/>
<line class="L" x1="1122" y1="1204" x2="1024.6" y2="1149"/>
<line class="L" x1="1032.4" y1="1256" x2="933.4" y2="1131.6"/>
<line class="L" x1="503.4" y1="1205" x2="536.8" y2="1222.8"/>
<line class="L" x1="639.7" y1="1189.4" x2="634.7" y2="1223.5"/>
<line class="L" x1="598.6" y1="1281" x2="622" y2="1265"/>
<line class="L" x1="500" y1="1318" x2="658.7" y2="1307"/>
<line class="L" x1="990" y1="1335.6" x2="764" y2="1296.5"/>
<line class="L" x1="491.8" y1="1373.7" x2="533.5" y2="1393.7"/>
<line class="L" x1="528.5" y1="1363.7" x2="648" y2="1452"/>
<line class="L" x1="858.5" y1="1485" x2="776.7" y2="1438.5"/>
<line class="L" x1="1048.8" y1="1497" x2="1005.4" y2="1473"/>
<line class="L" x1="1023.8" y1="1517" x2="970.4" y2="1487"/>
<line class="L" x1="379.4" y1="1572" x2="413.5" y2="1553"/>
<line class="L" x1="426" y1="1621" x2="460" y2="1600.4"/>
<line class="L" x1="588.7" y1="1548.6" x2="609.8" y2="1515"/>
<g transform="translate(420.7 852.5) rotate(25.4)"><rect class="k" x="-13.2" y="-7.3" width="26.4" height="14.6" rx="3"/><text x="-11.5" y="4.2" style="font-family:'Liberation Serif',serif;font-size:11px;font-weight:bold;fill:#fff;stroke:#111;stroke-width:0.7" textLength="23" lengthAdjust="spacingAndGlyphs">TORO.</text></g>
<path class="d" d="M430,866.3 L476.4,916.4" />
<path class="k" d="M433.8,878.9 L438.8,877.6 L442.6,873.8 L535.3,927.7 L533.5,934.0 L531.5,935.0 L533.0,937.7 L517.7,964.0 L417.5,906.4 Z" />
<circle class="k" cx="422.6" cy="912.7" r="1.5"/>
<circle class="k" cx="512.7" cy="964" r="1.5"/>
<path class="k" d="M403.8,902.6 L422.0,912.0" />
<circle class="k" cx="403.8" cy="902.6" r="1.4"/>
<path class="d" d="M421.3,911.4 L447.6,923.9" />
<path class="k" d="M495.2,902.6 L512.7,882.6" />
<path class="k" d="M520.2,856.3 L571.6,885.1 L551.5,911.4 L501.4,881.4 Z" />
<path class="k" d="M512.5,880.0 L521.5,867.6 L535.3,881.4" />
<circle class="k" cx="527.7" cy="962.7" r="2.2"/>
<circle class="k" cx="527.7" cy="962.7" r="1.1"/>
<path class="k" d="M529.0,963.5 L555.3,975.3" />
<circle class="k" cx="555.3" cy="975.3" r="1.2"/>
<path class="k" d="M565.3,925 Q566,922 569,923 L681.5,985.1" />
<path class="k" d="M583.4,927.5 L682.7,983.6" />
<path class="k" d="M593.5,933.2 L591.9,936.0" />
<path class="k" d="M603.6,938.9 L602.0,941.7" />
<path class="k" d="M613.7,944.6 L612.1,947.4" />
<path class="k" d="M623.8,950.3 L622.2,953.1" />
<path class="k" d="M633.9,956.0 L632.3,958.8" />
<path class="k" d="M644.0,961.7 L642.4,964.5" />
<path class="k" d="M654.1,967.4 L652.5,970.2" />
<path class="k" d="M664.2,973.2 L662.6,976.0" />
<path class="k" d="M674.3,978.9 L672.7,981.7" />
<path class="k" d="M682.7,983.6 Q692,989 692,993" />
<path class="k" d="M679,994 Q685,996.5 692,993" />
<path class="k" d="M682.7,986.3 L700.0,985.7" />
<path class="k" d="M565.3,922.7 L490.1,1070.2" />
<path class="k" d="M565.3,925 Q563.5,927 565.5,929.5" />
<path class="k" d="M490.1,1070.2 L492.0,1083.0 L495.6,1103.3 L592.9,1158.4 L620.5,1159.3" />
<path class="k" d="M490.1,1070.2 L502.0,1069.3 L548.0,1096.0 L562.6,1105.0 L575.5,1112.4 L604.9,1128.0 L615.9,1141.8 L619.6,1158.4" />
<path class="k" d="M495.6,1072.0 L495.6,1103.3" />
<path class="k" d="M683,986.5 Q692,988 693,994.9 L674.7,1040.8 L672.8,1050 L689.4,1064.7 L678.3,1126.2 L620.5,1159.3" />
<path class="k" d="M678,984 Q687,984 690,990" />
<path class="kt" d="M683.9,1068.4 L674.7,1090.4 L671.0,1125.3 L625.1,1151.0" />
<path class="k" d="M669.2,1050.0 L625.1,1132.6 L628.8,1149.2 L625.1,1152.0" />
<circle class="k" cx="666.5" cy="1120" r="1.6"/>
<circle class="k" cx="668" cy="1123" r="1.6"/>
<path class="k" d="M572,940 L666,994 Q669.5,996 668,999 L648,1027 Q646.5,1029 644,1027.6 L559,978 Q556.5,976.5 557.8,973.5 L568,941.5 Q569.5,939 572,940 Z" />
<circle class="k" cx="645.3" cy="1028" r="1.8"/>
<circle class="k" cx="645.3" cy="1028" r="0.9"/>
<path class="k" d="M549.8,991.5 L635,1038.5 Q638,1040.5 636.7,1043 L626,1066 Q624.5,1068.5 621.5,1067 L538.5,1021 Q536,1019.5 537,1017 L545.5,993 Q547,990 549.8,991.5 Z" />
<circle class="k" cx="629.5" cy="1045" r="1.6"/>
<circle class="k" cx="631.5" cy="1048.5" r="1.6"/>
<circle class="k" cx="629.5" cy="1051" r="1.6"/>
<path class="k" d="M527.5,1039.5 L605.7,1083.5 Q608.5,1085 607.5,1088.5 L606,1092.5 Q604.5,1095 601.5,1093.5 L524,1050.5 Q521.5,1049 522.5,1046 L524,1041.5 Q525,1038.5 527.5,1039.5 Z" />
<path class="k" d="M557.1,1103.2 L563.6,1105.0 L554.4,1127.1 L548.0,1125.3 Z" />
<rect class="k" x="500.0" y="1074.3" width="10" height="3.4" rx="1.7" transform="rotate(28 505.0 1076.0)"/>
<rect class="k" x="511.5" y="1080.4" width="10" height="3.4" rx="1.7" transform="rotate(28 516.5 1082.1)"/>
<rect class="k" x="523.0" y="1086.5" width="10" height="3.4" rx="1.7" transform="rotate(28 528.0 1088.2)"/>
<rect class="k" x="534.5" y="1092.6" width="10" height="3.4" rx="1.7" transform="rotate(28 539.5 1094.3)"/>
<rect class="k" x="502.9" y="1082.8" width="10" height="3.4" rx="1.7" transform="rotate(28 507.9 1084.5)"/>
<rect class="k" x="514.4" y="1089.0" width="10" height="3.4" rx="1.7" transform="rotate(28 519.4 1090.7)"/>
<rect class="k" x="525.9" y="1095.0" width="10" height="3.4" rx="1.7" transform="rotate(28 530.9 1096.8)"/>
<rect class="k" x="537.4" y="1101.1" width="10" height="3.4" rx="1.7" transform="rotate(28 542.4 1102.8)"/>
<rect class="k" x="505.7" y="1091.4" width="10" height="3.4" rx="1.7" transform="rotate(28 510.7 1093.1)"/>
<rect class="k" x="517.2" y="1097.5" width="10" height="3.4" rx="1.7" transform="rotate(28 522.2 1099.2)"/>
<rect class="k" x="528.7" y="1103.6" width="10" height="3.4" rx="1.7" transform="rotate(28 533.7 1105.3)"/>
<rect class="k" x="497.1" y="1093.8" width="10" height="3.4" rx="1.7" transform="rotate(28 502.1 1095.5)"/>
<rect class="k" x="508.5" y="1100.0" width="10" height="3.4" rx="1.7" transform="rotate(28 513.5 1101.7)"/>
<rect class="k" x="520.0" y="1106.0" width="10" height="3.4" rx="1.7" transform="rotate(28 525.0 1107.8)"/>
<rect class="k" x="531.5" y="1112.1" width="10" height="3.4" rx="1.7" transform="rotate(28 536.5 1113.8)"/>
<rect class="k" x="567.0" y="1112.3" width="10" height="3.3" rx="1.65" transform="rotate(28 572.0 1114.0)"/>
<rect class="k" x="578.3" y="1118.3" width="10" height="3.3" rx="1.65" transform="rotate(28 583.3 1120.0)"/>
<rect class="k" x="589.6" y="1124.3" width="10" height="3.3" rx="1.65" transform="rotate(28 594.6 1126.0)"/>
<rect class="k" x="600.9" y="1130.3" width="10" height="3.3" rx="1.65" transform="rotate(28 605.9 1132.0)"/>
<rect class="k" x="569.9" y="1120.6" width="10" height="3.3" rx="1.65" transform="rotate(28 574.9 1122.3)"/>
<rect class="k" x="581.2" y="1126.6" width="10" height="3.3" rx="1.65" transform="rotate(28 586.2 1128.3)"/>
<rect class="k" x="592.5" y="1132.6" width="10" height="3.3" rx="1.65" transform="rotate(28 597.5 1134.3)"/>
<rect class="k" x="603.8" y="1138.6" width="10" height="3.3" rx="1.65" transform="rotate(28 608.8 1140.3)"/>
<rect class="k" x="572.7" y="1128.9" width="10" height="3.3" rx="1.65" transform="rotate(28 577.7 1130.6)"/>
<rect class="k" x="584.0" y="1134.9" width="10" height="3.3" rx="1.65" transform="rotate(28 589.0 1136.6)"/>
<rect class="k" x="595.3" y="1140.9" width="10" height="3.3" rx="1.65" transform="rotate(28 600.3 1142.6)"/>
<path class="k" d="M927.6,1016.7 Q929,1015 930.5,1016 L932.6,1020.9" />
<path class="kt" d="M932.6,1021.7 L1048.6,1086.8" />
<path class="k" d="M1045.3,1085.1 Q1047,1082.5 1050.3,1085.1 L1050.3,1088.5" />
<path class="k" d="M1050.3,1088.5 L1055.3,1115.2 L1049.4,1113.5 L1054.4,1150.3 L1067.8,1143.6 L1073.6,1173.6" />
<path class="k" d="M927.6,1016.7 L934.2,1177.0 L963.5,1194.5 L975.1,1202.0" />
<path class="k" d="M975.1,1202.0 L995.2,1213.7" />
<path class="k" d="M1008.0,1221.0 L1041.9,1238.7" />
<path class="k" d="M1041.9,1238.7 L1060.3,1240.4 Q1062,1244 1061.1,1245.4 L1055.3,1248.7 Q1052,1247 1052.8,1243.7 L1046.1,1243.7" />
<path class="k" d="M935.9,1021.7 L938.4,1175.3" />
<path class="kt" d="M946.8,1072.6 L1040.3,1125.2 Q1050,1130 1051,1140 L1051.1,1225.4" />
<path class="k" d="M946.8,1072.6 Q943.4,1072 943.4,1076 L943.4,1167 Q944,1175 950,1178 L1040.3,1228.7" />
<path class="k" d="M961,1055.1 Q963,1053.5 966,1055.5 L981.5,1069 Q984,1072 985,1078 L986.8,1083.5 L981,1082.6 L965,1072 Q962.5,1069 962,1065 Z" />
<path class="k" d="M1001,1077.6 Q1003,1076 1006,1078 L1021,1089 Q1024.5,1092 1025.5,1098 L1026.1,1105.2 L1021.9,1106 L1006,1095 Q1003,1092 1002.5,1087 Z" />
<circle class="k" cx="936.7" cy="1030.9" r="1.9"/>
<circle class="f" cx="936.7" cy="1030.9" r="0.8"/>
<circle class="k" cx="956" cy="1046.7" r="1.9"/>
<circle class="f" cx="956" cy="1046.7" r="0.8"/>
<circle class="k" cx="942.6" cy="1066.8" r="1.9"/>
<circle class="f" cx="942.6" cy="1066.8" r="0.8"/>
<circle class="k" cx="961.5" cy="1076.8" r="1.9"/>
<circle class="f" cx="961.5" cy="1076.8" r="0.8"/>
<circle class="k" cx="1024.9" cy="1086" r="1.9"/>
<circle class="f" cx="1024.9" cy="1086" r="0.8"/>
<circle class="k" cx="1042.8" cy="1091.8" r="1.9"/>
<circle class="f" cx="1042.8" cy="1091.8" r="0.8"/>
<circle class="k" cx="1029.4" cy="1116" r="1.9"/>
<circle class="f" cx="1029.4" cy="1116" r="0.8"/>
<path class="k" d="M1019.5,1147.2 L1023,1146 L1025,1150 L1021.5,1151.5 Z" />
<path class="k" d="M1023.5,1148.0 L1040.0,1133.0" />
<circle class="k" cx="1030" cy="1197" r="1.5"/>
<circle class="k" cx="1030.5" cy="1200.5" r="1.5"/>
<path class="kt" d="M1045.3,1180.3 L1045.3,1232.0" />
<path class="k" d="M1045.3,1180.3 L1055.3,1182.8 L1054.4,1187.0 L1062.0,1192.0 L1070.3,1187.0 L1079.5,1189.5 L1079.5,1227.0 L1062.0,1217.0 L1047.0,1227.0" />
<path class="k" d="M1054.4,1187.0 L1062.0,1184.0 L1070.3,1187.0" />
<rect class="k" x="910.9" y="1035" width="16.7" height="23.4" rx="1.5"/>
<ellipse class="k" cx="919.2" cy="1035.3" rx="8.3" ry="2.3"/>
<ellipse class="k" cx="919.2" cy="1036.5" rx="6.5" ry="1.5"/>
<path class="k" d="M919.2,1058.4 L919.2,1070.0" />
<rect class="k" x="910.9" y="1071.5" width="16.7" height="60.4" rx="2"/>
<ellipse class="k" cx="919.2" cy="1072" rx="8.3" ry="2.3"/>
<ellipse class="k" cx="919.2" cy="1076.8" rx="8.3" ry="2"/>
<path class="k" d="M919.2,1132.0 L919.2,1172.0" />
<ellipse class="k" cx="919.2" cy="1148.6" rx="8.4" ry="4.2"/>
<ellipse class="k" cx="919.2" cy="1150.1999999999998" rx="8.4" ry="4.2"/>
<path class="k" d="M911.5,1147.6 L919.2,1142.6 L926.9,1147.6" />
<ellipse class="k" cx="919.2" cy="1168.6" rx="8.4" ry="4.2"/>
<ellipse class="k" cx="919.2" cy="1170.1999999999998" rx="8.4" ry="4.2"/>
<path class="k" d="M911.5,1167.6 L919.2,1162.6 L926.9,1167.6" />
<path class="k" d="M917.5,1141.9 L941.8,1128.5" />
<circle class="f" cx="933.4" cy="1133.6" r="1.0"/>
<path class="k" d="M917.5,1162.0 L941.8,1147.7" />
<circle class="f" cx="933.4" cy="1152.8" r="1.0"/>
<path class="k" d="M911.7,1033.4 L946.0,1005.0" />
<path class="k" d="M943.5,1006.5 L947,1003 L951,1005 L948.5,1008.5 Z" />
<circle class="k" cx="949.5" cy="1003.3" r="1.6"/>
<path class="d" d="M932,1017 L976.8,1000" />
<path class="d" d="M820,1102 L898.3,1043.4" />
<path class="k" d="M984.5,975.4 L992.4,969.3 L997.7,969.3 L1010.8,976.3 L1026.6,969.3 L1031.9,969.3 L1048.5,979.8 L1051.1,985.1 L1051.1,1000.8" />
<path class="k" d="M984.5,975.4 L992.4,1023.6 L1098.5,1083.2" />
<path class="k" d="M1004.7,989.4 Q1006,984 1012.6,982.4 L1096.7,1028.9 L1098.5,1031" />
<path class="k" d="M1004.7,989.4 L1014.3,1055.2 L1031.9,1065.7 L1047.6,1056.9" />
<circle class="f" cx="994.2" cy="986" r="1.0"/>
<circle class="f" cx="1000" cy="1021.9" r="1.0"/>
<circle class="f" cx="1013.5" cy="1001.7" r="1.0"/>
<circle class="f" cx="1018.7" cy="1031.5" r="1.0"/>
<circle class="f" cx="1082.7" cy="1041.1" r="1.0"/>
<circle class="f" cx="1087.1" cy="1071" r="1.0"/>
<path class="d" d="M960,1011.3 L994.2,986" />
<path class="d" d="M1033.6,1078.8 L1082.7,1041.1" />
<path class="d" d="M1051.1,1085 L1101.1,1047.3" />
<path class="k" d="M1091.4,1036.6 L1099.0,1031.0 L1102.3,1030.4 L1116.2,1037.0 L1119.3,1037.0 L1133.8,1030.4 L1138.0,1031.0 L1156.0,1041.8 L1158.7,1047.0 L1158.7,1115.3 L1156.6,1118.4 L1152.5,1118.4 L1147.3,1115.8 L1133.8,1123.6 L1130.7,1122.5 L1122.4,1116.3 L1117.3,1088.4 L1110.5,1092.0 L1099.0,1085.8" />
<path class="k" d="M1091.4,1036.6 L1099.0,1085.8" />
<path class="k" d="M1125.5,1084.2 L1117.3,1088.4" />
<path class="k" d="M1108.0,1065.6 L1112.6,1068.2 L1149.4,1050.0" />
<circle class="f" cx="1100.7" cy="1048" r="1.1"/>
<circle class="f" cx="1107" cy="1083" r="1.1"/>
<circle class="k" cx="820" cy="1102" r="2.0"/>
<circle class="k" cx="820" cy="1102" r="1.0"/>
<path class="k" d="M580.4,1173.4 L605,1175.5 Q613,1178 614,1186 L614.5,1193.4 L611.2,1226.8 Q609,1240 604,1245 L597.8,1250.8 L535,1304.2 L533,1304.2 L531,1266.8 L527.7,1237.5 Q527.5,1233 531,1232 L579.1,1204.1 Q581,1202 580.4,1198 L579.6,1175 Q579.8,1173 580.4,1173.4 Z" />
<path class="k" d="M580.4,1173.4 L583.5,1177.0 L583.1,1204.1" />
<path class="kt" d="M531.0,1234.0 L536.4,1236.1 L577.8,1212.8 L583.1,1204.1" />
<path class="k" d="M536.4,1236.1 L537.7,1246.8 L544.4,1284.2 L548.4,1285.5 L597.8,1246.8 L604.5,1237.5 L608.5,1220.1 L610.5,1186.7 L608.5,1182.7 L589.8,1182.7 L584.5,1190.7 L583.1,1204.1" />
<path class="k" d="M536.4,1240.0 L540.0,1282.0" />
<circle class="k" cx="549.5" cy="1231.0" r="1.1"/>
<circle class="k" cx="549.8" cy="1234.4" r="1.1"/>
<circle class="k" cx="550.1" cy="1237.8" r="1.1"/>
<circle class="k" cx="550.4" cy="1241.2" r="1.1"/>
<circle class="k" cx="550.7" cy="1244.6" r="1.1"/>
<circle class="k" cx="551.0" cy="1248.0" r="1.1"/>
<circle class="k" cx="551.7" cy="1231.5" r="1.1"/>
<circle class="k" cx="552.0" cy="1234.9" r="1.1"/>
<circle class="k" cx="552.3000000000001" cy="1238.3" r="1.1"/>
<circle class="k" cx="552.6" cy="1241.7" r="1.1"/>
<circle class="k" cx="552.9000000000001" cy="1245.1" r="1.1"/>
<circle class="k" cx="553.2" cy="1248.5" r="1.1"/>
<circle class="k" cx="554.1999999999999" cy="1232.0" r="1.1"/>
<circle class="k" cx="554.5" cy="1235.3999999999999" r="1.1"/>
<circle class="k" cx="554.8" cy="1238.8" r="1.1"/>
<circle class="k" cx="555.1" cy="1242.1999999999998" r="1.1"/>
<circle class="k" cx="555.4" cy="1245.6" r="1.1"/>
<circle class="k" cx="556.1" cy="1229.1000000000001" r="1.1"/>
<circle class="k" cx="556.4" cy="1232.5000000000002" r="1.1"/>
<circle class="k" cx="556.7" cy="1235.9" r="1.1"/>
<circle class="k" cx="557.0" cy="1239.3000000000002" r="1.1"/>
<circle class="k" cx="557.3000000000001" cy="1242.7" r="1.1"/>
<circle class="k" cx="557.6" cy="1246.1000000000001" r="1.1"/>
<circle class="k" cx="558.5999999999999" cy="1229.6000000000001" r="1.1"/>
<circle class="k" cx="558.9" cy="1233.0" r="1.1"/>
<circle class="k" cx="559.1999999999999" cy="1236.4" r="1.1"/>
<circle class="k" cx="559.5" cy="1239.8" r="1.1"/>
<circle class="k" cx="559.8" cy="1243.2" r="1.1"/>
<circle class="k" cx="560.8" cy="1230.1000000000001" r="1.1"/>
<circle class="k" cx="561.1" cy="1233.5" r="1.1"/>
<circle class="k" cx="561.4" cy="1236.9" r="1.1"/>
<circle class="k" cx="561.7" cy="1240.3" r="1.1"/>
<circle class="k" cx="562.0" cy="1243.7" r="1.1"/>
<circle class="k" cx="563.3000000000001" cy="1230.6" r="1.1"/>
<circle class="k" cx="563.6" cy="1234.0" r="1.1"/>
<circle class="k" cx="563.9000000000001" cy="1237.3999999999999" r="1.1"/>
<circle class="k" cx="564.2" cy="1240.8" r="1.1"/>
<circle class="k" cx="539" cy="1248" r="0.9"/>
<circle class="k" cx="542" cy="1266" r="0.9"/>
<circle class="k" cx="545.5" cy="1280" r="0.9"/>
<circle class="k" cx="556" cy="1276" r="0.9"/>
<circle class="k" cx="569" cy="1266" r="0.9"/>
<circle class="k" cx="584" cy="1255" r="0.9"/>
<circle class="k" cx="599" cy="1243" r="0.9"/>
<circle class="k" cx="606" cy="1225" r="0.9"/>
<circle class="k" cx="608" cy="1208" r="0.9"/>
<circle class="k" cx="606" cy="1189" r="0.9"/>
<circle class="k" cx="597" cy="1184" r="0.9"/>
<circle class="k" cx="586" cy="1191" r="0.9"/>
<path class="k" d="M553.7,1200.1 L553.7,1221.4" />
<path class="k" d="M553.7,1200.1 L572.0,1212.0" />
<path class="d" d="M577.8,1214.8 L615.2,1236.8" />
<path class="k" d="M617.3,1238.9 L657.4,1216.2 A1.65,1.65 0 0 0 655.8,1213.4 L615.7,1236.1 A1.65,1.65 0 0 0 617.3,1238.9 Z" />
<path class="k" d="M613.7,1257.7 L655.1,1279.0 A1.65,1.65 0 0 0 656.7,1276.0 L615.3,1254.7 A1.65,1.65 0 0 0 613.7,1257.7 Z" />
<path class="k" d="M616.5,1237.5 L635.9,1249.5 L635.9,1229.5" />
<path class="g" d="M686.7,1124.5 L705.1,1119.1 L709.4,1122.3 L718.1,1132.1 L748.5,1123.4 L776.7,1119.1 L787.6,1124.5 L791.9,1126.7" />
<path class="g" d="M686.7,1124.5 L678.0,1145.1 L669.3,1166.8 L661.7,1184.2 L672.6,1188.5 L674.7,1201.5 L672.6,1214.6 L663.9,1231.9 L661.7,1244.9 L670.4,1251.4 L689.9,1251.4 L698.6,1260.1 L696.4,1275.3 L692.1,1297.0 L689.9,1318.7" />
<path class="g" d="M702.6,1150.5 L804.7,1210.8" />
<path class="g" d="M706.8,1152.6 L784.9,1122.8" />
<path class="g" d="M672.6,1184.2 L690.5,1186.7 L691.2,1197.3 L735.5,1210.2 L733.3,1221.1 L746.3,1227.6 L761.5,1234.1 L778.9,1244.9 L791.9,1251.4" />
<path class="g" d="M791.9,1251.4 L795.2,1240.1 L807.7,1205.4 L815.2,1197.9 L830.2,1192.9 L850.3,1202.9 L867.8,1195.4 L905.4,1192.9 L917.9,1207.9 L930.4,1209.2 L940.4,1197.9 L953.0,1194.1 L963.0,1196.0" />
<path class="g" d="M963.0,1195.0 L963.0,1320.2 L960.5,1335.3 L968.0,1365.3 L969.2,1380.3 L965.5,1397.9 L953.0,1415.4 L930.4,1425.4" />
<path class="g" d="M790.2,1125.3 L897.9,1187.9" />
<path class="g" d="M684.0,987.0 L740.0,983.8 L746.3,1080.0" />
<path class="g" d="M790.2,1262.6 L797.7,1285.2 L802.7,1290.2 L792.7,1307.7 L795.2,1320.2 L817.7,1327.7 L822.7,1335.3 L825.2,1345.3 L817.7,1390.3" />
<path class="g" d="M762.6,1302.7 L950.4,1415.4" />
<path class="g" d="M700.0,1312.7 L775.1,1272.6" />
<ellipse class="g" cx="830.2" cy="1257.6" rx="7" ry="9" transform="rotate(20 830.2 1257.6)"/>
<ellipse class="g" cx="852.8" cy="1242.6" rx="4" ry="7" transform="rotate(10 852.8 1242.6)"/>
<ellipse class="g" cx="884.1" cy="1228.8" rx="5" ry="7" transform="rotate(10 884.1 1228.8)"/>
<ellipse class="g" cx="895.3" cy="1236.3" rx="5" ry="10" transform="rotate(10 895.3 1236.3)"/>
<ellipse class="g" cx="914.1" cy="1241.3" rx="4" ry="6" transform="rotate(10 914.1 1241.3)"/>
<ellipse class="g" cx="871.5" cy="1286.4" rx="5" ry="10" transform="rotate(15 871.5 1286.4)"/>
<ellipse class="g" cx="832.7" cy="1360.3" rx="5" ry="7" transform="rotate(10 832.7 1360.3)"/>
<ellipse class="g" cx="910.4" cy="1364" rx="8" ry="5" transform="rotate(-30 910.4 1364)"/>
<ellipse class="g" cx="925.4" cy="1376.6" rx="3" ry="5" transform="rotate(10 925.4 1376.6)"/>
<path class="g" d="M932.9,1400.4 L958,1372.8 Q962,1370 963,1375 L938,1404 Q934,1406 932.9,1400.4 Z" />
<path class="g" d="M850.3,1365.3 L887.8,1362.8 L905.4,1376.6 L940.4,1355.3" />
<path class="g" d="M787.0,1338.0 L790.0,1345.0" />
<path class="g" d="M791.9,1251.4 L789.7,1264.5 L796.3,1275.3 L800.6,1286.2 L791.9,1307.9 L789.7,1340.0" />
<path class="g" d="M750.7,1153.8 L768.0,1147.3 L785.4,1157.0 L768.0,1163.6 Z" />
<ellipse class="g" cx="759" cy="1157" rx="3" ry="4.5"/>
<ellipse class="g" cx="766" cy="1158" rx="3" ry="5"/>
<path class="g" d="M813.5,1193.7 L795.1,1177.1 L820.8,1168.0 L835.5,1177.1 L835.5,1193.7" />
<path class="g" d="M813.5,1193.7 L817.1,1195.5 L825.0,1192.0" />
<path class="g" d="M746.3,1080.0 L749.6,1123.4 L752.8,1210.2" />
<path class="g" d="M752.8,1210.2 L785.4,1209.8" />
<path class="g" d="M752.8,1195.0 L760.0,1193.0" />
<path class="g" d="M807.1,1125.6 L811.0,1121.0 L816.0,1125.0 L824.5,1119.5 L826.5,1123.0 L835.3,1121.5 L835.3,1150.0" />
<path class="g" d="M807.1,1125.6 L809.0,1135.0 L835.3,1150.0" />
<ellipse class="g" cx="704" cy="1286.2" rx="4.5" ry="6" transform="rotate(15 704 1286.2)"/>
<path class="g" d="M739,1232 Q735,1242 742,1244 L752,1242" />
<path class="g" d="M768,1243 Q764,1252 772,1254 L782,1251" />
<path class="g" d="M858.0,1252.0 L858.0,1260.0" />
<path class="g" d="M887.0,1275.0 L887.0,1285.0" />
<path class="g" d="M858.0,1228.0 L858.0,1235.0" />
<path class="g" d="M956.0,1215.0 L956.0,1228.0" />
<path class="g" d="M956.0,1240.0 L956.0,1255.0" />
<circle class="g" cx="693" cy="1129" r="0.8"/>
<circle class="g" cx="715" cy="1161" r="0.8"/>
<circle class="g" cx="734" cy="1155" r="0.8"/>
<circle class="g" cx="705" cy="1190" r="0.8"/>
<circle class="g" cx="688" cy="1235" r="0.8"/>
<circle class="g" cx="703" cy="1256" r="0.8"/>
<circle class="g" cx="728" cy="1200" r="0.8"/>
<circle class="g" cx="753" cy="1232" r="0.8"/>
<circle class="g" cx="761" cy="1226" r="0.8"/>
<circle class="g" cx="808" cy="1227" r="0.8"/>
<circle class="g" cx="822" cy="1212" r="0.8"/>
<circle class="g" cx="843" cy="1219" r="0.8"/>
<circle class="g" cx="830" cy="1236" r="0.8"/>
<circle class="g" cx="824" cy="1263" r="0.8"/>
<circle class="g" cx="812" cy="1282" r="0.8"/>
<path class="k" d="M676.9,1258 L711.6,1208 A3,3 0 0 1 716.5,1211.5 L681.8,1261.5 A3,3 0 0 1 676.9,1258 Z" />
<path class="k" d="M713.5,1206.0 L719.5,1197.5" />
<circle class="k" cx="720" cy="1197.5" r="2.8"/>
<path class="k" d="M672,1262 L677,1258.5 L681,1262 L675.5,1267.5 Q671,1267 672,1262 Z" />
<path class="k" d="M670.4,1264.0 L667.0,1262.0" />
<circle class="k" cx="692.1" cy="1184.2" r="1.8"/>
<circle class="k" cx="692.1" cy="1184.2" r="0.9"/>
<path class="k" d="M697,1184 L704,1181 L707,1190 L702,1192 Z" />
<circle class="k" cx="709.4" cy="1192.8" r="1.6"/>
<path class="k" d="M693.5,1185.0 L713.0,1193.5" />
<path class="k" d="M736.4,1307.3 L776.5,1284.5 A1.8,1.8 0 0 0 774.7,1281.3 L734.6,1304.1 A1.8,1.8 0 0 0 736.4,1307.3 Z" />
<g transform="translate(667.5,1311.5) rotate(-58)"><path class="k" d="M-16,-6.5 L8.5,-6.5 A6.5,6.5 0 0 1 8.5,6.5 L-16,6.5 Z"/><circle class="k" cx="-1" cy="0" r="4.3"/><circle class="k" cx="-1" cy="0" r="3"/><circle class="k" cx="8.5" cy="0" r="1.8"/><rect class="k" x="-14" y="-3" width="5" height="6"/></g>
<path class="k" d="M658.0,1324.0 L657.0,1327.0" />
<path class="k" d="M668.5,1326.0 L669.0,1329.0" />
<path class="g" d="M654.3,1281 L654.3,1323" />
<path class="g" d="M648.8,1288.2 L630.4,1303.8" />
<path class="g" d="M649,1288 L676,1305 L690,1318" />
<path class="k" d="M607.7,1292.5 L607.7,1343.8 L702.9,1400.2" />
<path class="k" d="M607.7,1311.3 L610.2,1300.0 L702.9,1350.1 L705.4,1352.6" />
<path class="k" d="M607.7,1292.5 L610.5,1295.0 L610.2,1300.0" />
<rect class="k" x="664.8" y="1338.5" width="11.5" height="2.1" rx="1.05" transform="rotate(27 670.6 1339.5)"/>
<rect class="k" x="677.0" y="1344.6" width="11.5" height="2.1" rx="1.05" transform="rotate(27 682.8 1345.7)"/>
<rect class="k" x="689.2" y="1350.8" width="11.5" height="2.1" rx="1.05" transform="rotate(27 695.0 1351.9)"/>
<rect class="k" x="620.5" y="1320.2" width="11.5" height="2.1" rx="1.05" transform="rotate(27 626.2 1321.2)"/>
<rect class="k" x="632.6" y="1326.4" width="11.5" height="2.1" rx="1.05" transform="rotate(27 638.4 1327.4)"/>
<rect class="k" x="644.9" y="1332.5" width="11.5" height="2.1" rx="1.05" transform="rotate(27 650.6 1333.6)"/>
<rect class="k" x="657.0" y="1338.8" width="11.5" height="2.1" rx="1.05" transform="rotate(27 662.8 1339.8)"/>
<rect class="k" x="669.2" y="1345.0" width="11.5" height="2.1" rx="1.05" transform="rotate(27 675.0 1346.0)"/>
<rect class="k" x="681.5" y="1351.2" width="11.5" height="2.1" rx="1.05" transform="rotate(27 687.2 1352.2)"/>
<rect class="k" x="693.6" y="1357.4" width="11.5" height="2.1" rx="1.05" transform="rotate(27 699.4 1358.4)"/>
<rect class="k" x="612.7" y="1320.5" width="11.5" height="2.1" rx="1.05" transform="rotate(27 618.4 1321.5)"/>
<rect class="k" x="624.9" y="1326.7" width="11.5" height="2.1" rx="1.05" transform="rotate(27 630.6 1327.7)"/>
<rect class="k" x="637.1" y="1332.9" width="11.5" height="2.1" rx="1.05" transform="rotate(27 642.8 1333.9)"/>
<rect class="k" x="649.3" y="1339.1" width="11.5" height="2.1" rx="1.05" transform="rotate(27 655.0 1340.1)"/>
<rect class="k" x="661.5" y="1345.3" width="11.5" height="2.1" rx="1.05" transform="rotate(27 667.2 1346.3)"/>
<rect class="k" x="673.7" y="1351.5" width="11.5" height="2.1" rx="1.05" transform="rotate(27 679.4 1352.5)"/>
<rect class="k" x="685.9" y="1357.7" width="11.5" height="2.1" rx="1.05" transform="rotate(27 691.6 1358.7)"/>
<rect class="k" x="604.9" y="1320.8" width="11.5" height="2.1" rx="1.05" transform="rotate(27 610.6 1321.8)"/>
<rect class="k" x="617.1" y="1327.0" width="11.5" height="2.1" rx="1.05" transform="rotate(27 622.8 1328.0)"/>
<rect class="k" x="629.3" y="1333.2" width="11.5" height="2.1" rx="1.05" transform="rotate(27 635.0 1334.2)"/>
<rect class="k" x="641.5" y="1339.3" width="11.5" height="2.1" rx="1.05" transform="rotate(27 647.2 1340.4)"/>
<rect class="k" x="653.7" y="1345.5" width="11.5" height="2.1" rx="1.05" transform="rotate(27 659.4 1346.6)"/>
<rect class="k" x="665.9" y="1351.8" width="11.5" height="2.1" rx="1.05" transform="rotate(27 671.6 1352.8)"/>
<rect class="k" x="678.1" y="1358.0" width="11.5" height="2.1" rx="1.05" transform="rotate(27 683.8 1359.0)"/>
<rect class="k" x="690.3" y="1364.2" width="11.5" height="2.1" rx="1.05" transform="rotate(27 696.0 1365.2)"/>
<rect class="k" x="609.3" y="1327.2" width="11.5" height="2.1" rx="1.05" transform="rotate(27 615.1 1328.3)"/>
<rect class="k" x="621.5" y="1333.5" width="11.5" height="2.1" rx="1.05" transform="rotate(27 627.3 1334.5)"/>
<rect class="k" x="633.7" y="1339.7" width="11.5" height="2.1" rx="1.05" transform="rotate(27 639.5 1340.7)"/>
<rect class="k" x="645.9" y="1345.9" width="11.5" height="2.1" rx="1.05" transform="rotate(27 651.7 1346.9)"/>
<rect class="k" x="658.1" y="1352.1" width="11.5" height="2.1" rx="1.05" transform="rotate(27 663.9 1353.1)"/>
<rect class="k" x="670.3" y="1358.2" width="11.5" height="2.1" rx="1.05" transform="rotate(27 676.1 1359.3)"/>
<rect class="k" x="682.5" y="1364.5" width="11.5" height="2.1" rx="1.05" transform="rotate(27 688.3 1365.5)"/>
<rect class="k" x="694.7" y="1370.7" width="11.5" height="2.1" rx="1.05" transform="rotate(27 700.5 1371.7)"/>
<rect class="k" x="613.7" y="1333.8" width="11.5" height="2.1" rx="1.05" transform="rotate(27 619.5 1334.8)"/>
<rect class="k" x="625.9" y="1340.0" width="11.5" height="2.1" rx="1.05" transform="rotate(27 631.7 1341.0)"/>
<rect class="k" x="638.1" y="1346.1" width="11.5" height="2.1" rx="1.05" transform="rotate(27 643.9 1347.2)"/>
<rect class="k" x="650.3" y="1352.3" width="11.5" height="2.1" rx="1.05" transform="rotate(27 656.1 1353.4)"/>
<rect class="k" x="662.5" y="1358.5" width="11.5" height="2.1" rx="1.05" transform="rotate(27 668.3 1359.6)"/>
<rect class="k" x="674.7" y="1364.8" width="11.5" height="2.1" rx="1.05" transform="rotate(27 680.5 1365.8)"/>
<rect class="k" x="686.9" y="1371.0" width="11.5" height="2.1" rx="1.05" transform="rotate(27 692.7 1372.0)"/>
<rect class="k" x="606.0" y="1334.0" width="11.5" height="2.1" rx="1.05" transform="rotate(27 611.7 1335.1)"/>
<rect class="k" x="618.1" y="1340.2" width="11.5" height="2.1" rx="1.05" transform="rotate(27 623.9 1341.3)"/>
<rect class="k" x="630.4" y="1346.5" width="11.5" height="2.1" rx="1.05" transform="rotate(27 636.1 1347.5)"/>
<rect class="k" x="642.6" y="1352.7" width="11.5" height="2.1" rx="1.05" transform="rotate(27 648.3 1353.7)"/>
<rect class="k" x="654.8" y="1358.9" width="11.5" height="2.1" rx="1.05" transform="rotate(27 660.5 1359.9)"/>
<rect class="k" x="667.0" y="1365.0" width="11.5" height="2.1" rx="1.05" transform="rotate(27 672.7 1366.1)"/>
<rect class="k" x="679.1" y="1371.2" width="11.5" height="2.1" rx="1.05" transform="rotate(27 684.9 1372.3)"/>
<rect class="k" x="691.4" y="1377.5" width="11.5" height="2.1" rx="1.05" transform="rotate(27 697.1 1378.5)"/>
<rect class="k" x="610.4" y="1340.6" width="11.5" height="2.1" rx="1.05" transform="rotate(27 616.1 1341.6)"/>
<rect class="k" x="622.6" y="1346.8" width="11.5" height="2.1" rx="1.05" transform="rotate(27 628.3 1347.8)"/>
<rect class="k" x="634.8" y="1353.0" width="11.5" height="2.1" rx="1.05" transform="rotate(27 640.5 1354.0)"/>
<rect class="k" x="647.0" y="1359.2" width="11.5" height="2.1" rx="1.05" transform="rotate(27 652.7 1360.2)"/>
<rect class="k" x="659.2" y="1365.4" width="11.5" height="2.1" rx="1.05" transform="rotate(27 664.9 1366.4)"/>
<rect class="k" x="671.4" y="1371.6" width="11.5" height="2.1" rx="1.05" transform="rotate(27 677.1 1372.6)"/>
<rect class="k" x="683.6" y="1377.8" width="11.5" height="2.1" rx="1.05" transform="rotate(27 689.3 1378.8)"/>
<rect class="k" x="695.8" y="1384.0" width="11.5" height="2.1" rx="1.05" transform="rotate(27 701.5 1385.0)"/>
<rect class="k" x="614.8" y="1347.0" width="11.5" height="2.1" rx="1.05" transform="rotate(27 620.5 1348.1)"/>
<rect class="k" x="627.0" y="1353.2" width="11.5" height="2.1" rx="1.05" transform="rotate(27 632.7 1354.3)"/>
<rect class="k" x="639.2" y="1359.5" width="11.5" height="2.1" rx="1.05" transform="rotate(27 644.9 1360.5)"/>
<rect class="k" x="651.4" y="1365.7" width="11.5" height="2.1" rx="1.05" transform="rotate(27 657.1 1366.7)"/>
<rect class="k" x="663.6" y="1371.8" width="11.5" height="2.1" rx="1.05" transform="rotate(27 669.3 1372.9)"/>
<rect class="k" x="675.8" y="1378.0" width="11.5" height="2.1" rx="1.05" transform="rotate(27 681.5 1379.1)"/>
<rect class="k" x="688.0" y="1384.2" width="11.5" height="2.1" rx="1.05" transform="rotate(27 693.7 1385.3)"/>
<rect class="k" x="655.8" y="1372.2" width="11.5" height="2.1" rx="1.05" transform="rotate(27 661.6 1373.2)"/>
<rect class="k" x="668.0" y="1378.4" width="11.5" height="2.1" rx="1.05" transform="rotate(27 673.8 1379.4)"/>
<rect class="k" x="680.2" y="1384.6" width="11.5" height="2.1" rx="1.05" transform="rotate(27 686.0 1385.6)"/>
<rect class="k" x="692.4" y="1390.8" width="11.5" height="2.1" rx="1.05" transform="rotate(27 698.2 1391.8)"/>
<path class="k" d="M702.9,1356.4 L735.5,1356.4 L740.5,1397.7 L710.4,1401.4 L702.9,1400.2" />
<rect class="k" x="710.7" y="1359.4" width="7.6" height="2.2" rx="1.1"/>
<rect class="k" x="719.7" y="1359.4" width="7.6" height="2.2" rx="1.1"/>
<rect class="k" x="710.7" y="1364.0" width="7.6" height="2.2" rx="1.1"/>
<rect class="k" x="719.7" y="1364.0" width="7.6" height="2.2" rx="1.1"/>
<rect class="k" x="710.7" y="1368.6" width="7.6" height="2.2" rx="1.1"/>
<rect class="k" x="719.7" y="1368.6" width="7.6" height="2.2" rx="1.1"/>
<rect class="k" x="710.7" y="1373.2" width="7.6" height="2.2" rx="1.1"/>
<rect class="k" x="719.7" y="1373.2" width="7.6" height="2.2" rx="1.1"/>
<rect class="k" x="710.7" y="1377.8" width="7.6" height="2.2" rx="1.1"/>
<rect class="k" x="719.7" y="1377.8" width="7.6" height="2.2" rx="1.1"/>
<rect class="k" x="710.7" y="1382.4" width="7.6" height="2.2" rx="1.1"/>
<rect class="k" x="719.7" y="1382.4" width="7.6" height="2.2" rx="1.1"/>
<rect class="k" x="710.7" y="1387.0" width="7.6" height="2.2" rx="1.1"/>
<rect class="k" x="719.7" y="1387.0" width="7.6" height="2.2" rx="1.1"/>
<rect class="k" x="710.7" y="1391.6" width="7.6" height="2.2" rx="1.1"/>
<rect class="k" x="719.7" y="1391.6" width="7.6" height="2.2" rx="1.1"/>
<rect class="k" x="710.7" y="1396.2" width="7.6" height="2.2" rx="1.1"/>
<rect class="k" x="719.7" y="1396.2" width="7.6" height="2.2" rx="1.1"/>
<path class="k" d="M735.5,1356.4 L738.5,1358.0 L743.0,1397.0 L740.5,1400.2" />
<path class="kt" d="M592.8,1355.2 L696.8,1414.8" />
<path class="k" d="M592.8,1355.2 L542.6,1406.6 L658.3,1461.5 L696.8,1414.8" />
<path class="k" d="M546.1,1410.1 L590.0,1362.0" />
<path class="k" d="M520.4,1414.8 L599.8,1340.0" />
<path class="k" d="M520.4,1414.8 L512.2,1419.5 Q512,1423 516,1424 L520.4,1424.1 L525,1428.8 L525,1442.8 L646.6,1510.6 L651.4,1502.8" />
<circle class="k" cx="518" cy="1420.6" r="2.0"/>
<circle class="k" cx="518" cy="1420.6" r="1.0"/>
<circle class="k" cx="568.3" cy="1370.4" r="2.0"/>
<circle class="k" cx="568.3" cy="1370.4" r="1.0"/>
<circle class="k" cx="654.8" cy="1458" r="2.3"/>
<circle class="k" cx="654.8" cy="1458" r="1.15"/>
<path class="k" d="M651,1455 L657,1452 L659.5,1460 L653.5,1463 Z" />
<circle class="f" cx="592.8" cy="1387.9" r="1.0"/>
<circle class="k" cx="641.9" cy="1472" r="1.2"/>
<path class="k" d="M565,1367 L569,1364 L572,1370 L568,1373 Z" />
<rect class="k" x="562.5" y="1381.1" width="6.5" height="2.2" rx="1.1" transform="rotate(-48 565.8 1382.2)"/>
<rect class="k" x="567.1" y="1376.0" width="6.5" height="2.2" rx="1.1" transform="rotate(-48 570.4 1377.1)"/>
<rect class="k" x="571.8" y="1370.9" width="6.5" height="2.2" rx="1.1" transform="rotate(-48 575.0 1372.0)"/>
<rect class="k" x="567.2" y="1380.8" width="6.5" height="2.2" rx="1.1" transform="rotate(-48 570.5 1381.9)"/>
<rect class="k" x="571.9" y="1375.7" width="6.5" height="2.2" rx="1.1" transform="rotate(-48 575.1 1376.8)"/>
<rect class="k" x="576.4" y="1370.6" width="6.5" height="2.2" rx="1.1" transform="rotate(-48 579.7 1371.7)"/>
<rect class="k" x="581.0" y="1365.5" width="6.5" height="2.2" rx="1.1" transform="rotate(-48 584.3 1366.5)"/>
<rect class="k" x="585.6" y="1360.4" width="6.5" height="2.2" rx="1.1" transform="rotate(-48 588.9 1361.5)"/>
<rect class="k" x="585.8" y="1365.1" width="6.5" height="2.2" rx="1.1" transform="rotate(-48 589.0 1366.2)"/>
<rect class="k" x="590.3" y="1360.0" width="6.5" height="2.2" rx="1.1" transform="rotate(-48 593.6 1361.1)"/>
<rect class="k" x="543.1" y="1401.0" width="6.5" height="2.2" rx="1.1" transform="rotate(-48 546.4 1402.1)"/>
<rect class="k" x="547.8" y="1395.9" width="6.5" height="2.2" rx="1.1" transform="rotate(-48 551.0 1397.0)"/>
<rect class="k" x="552.4" y="1390.8" width="6.5" height="2.2" rx="1.1" transform="rotate(-48 555.6 1391.9)"/>
<rect class="k" x="552.4" y="1395.6" width="6.5" height="2.2" rx="1.1" transform="rotate(-48 555.7 1396.7)"/>
<rect class="k" x="557.0" y="1390.5" width="6.5" height="2.2" rx="1.1" transform="rotate(-48 560.3 1391.5)"/>
<path class="k" d="M630.2,1458.0 L636.0,1462.0 L639.6,1469.7" />
<path class="k" d="M650.3,1484.8 L740.4,1400.3 L741.6,1427.3 L752.8,1434.1 L663.8,1508.5 L651.4,1502.8 L650.3,1484.8" />
<path class="k" d="M653.0,1506.0 L752.0,1437.0" />
<path class="k" d="M654.0,1487.0 L741.0,1405.0" />
<rect class="k" x="725.8" y="1414.5" width="9" height="2.5" rx="1.25" transform="rotate(-43 730.2 1415.8)"/>
<rect class="k" x="733.2" y="1407.5" width="9" height="2.5" rx="1.25" transform="rotate(-43 737.8 1408.8)"/>
<rect class="k" x="657.0" y="1483.8" width="9" height="2.5" rx="1.25" transform="rotate(-43 661.5 1485.0)"/>
<rect class="k" x="664.5" y="1476.8" width="9" height="2.5" rx="1.25" transform="rotate(-43 669.0 1478.0)"/>
<rect class="k" x="672.0" y="1469.8" width="9" height="2.5" rx="1.25" transform="rotate(-43 676.5 1471.0)"/>
<rect class="k" x="679.5" y="1462.8" width="9" height="2.5" rx="1.25" transform="rotate(-43 684.0 1464.0)"/>
<rect class="k" x="687.0" y="1455.8" width="9" height="2.5" rx="1.25" transform="rotate(-43 691.5 1457.0)"/>
<rect class="k" x="694.5" y="1448.8" width="9" height="2.5" rx="1.25" transform="rotate(-43 699.0 1450.0)"/>
<rect class="k" x="702.0" y="1441.8" width="9" height="2.5" rx="1.25" transform="rotate(-43 706.5 1443.0)"/>
<rect class="k" x="709.5" y="1434.8" width="9" height="2.5" rx="1.25" transform="rotate(-43 714.0 1436.0)"/>
<rect class="k" x="717.0" y="1427.8" width="9" height="2.5" rx="1.25" transform="rotate(-43 721.5 1429.0)"/>
<rect class="k" x="724.5" y="1420.8" width="9" height="2.5" rx="1.25" transform="rotate(-43 729.0 1422.0)"/>
<rect class="k" x="732.0" y="1413.8" width="9" height="2.5" rx="1.25" transform="rotate(-43 736.5 1415.0)"/>
<rect class="k" x="655.8" y="1490.0" width="9" height="2.5" rx="1.25" transform="rotate(-43 660.2 1491.2)"/>
<rect class="k" x="663.2" y="1483.0" width="9" height="2.5" rx="1.25" transform="rotate(-43 667.8 1484.2)"/>
<rect class="k" x="670.8" y="1476.0" width="9" height="2.5" rx="1.25" transform="rotate(-43 675.2 1477.2)"/>
<rect class="k" x="678.2" y="1469.0" width="9" height="2.5" rx="1.25" transform="rotate(-43 682.8 1470.2)"/>
<rect class="k" x="685.8" y="1462.0" width="9" height="2.5" rx="1.25" transform="rotate(-43 690.2 1463.2)"/>
<rect class="k" x="693.2" y="1455.0" width="9" height="2.5" rx="1.25" transform="rotate(-43 697.8 1456.2)"/>
<rect class="k" x="700.8" y="1448.0" width="9" height="2.5" rx="1.25" transform="rotate(-43 705.2 1449.2)"/>
<rect class="k" x="708.2" y="1441.0" width="9" height="2.5" rx="1.25" transform="rotate(-43 712.8 1442.2)"/>
<rect class="k" x="715.8" y="1434.0" width="9" height="2.5" rx="1.25" transform="rotate(-43 720.2 1435.2)"/>
<rect class="k" x="723.2" y="1427.0" width="9" height="2.5" rx="1.25" transform="rotate(-43 727.8 1428.2)"/>
<rect class="k" x="730.8" y="1420.0" width="9" height="2.5" rx="1.25" transform="rotate(-43 735.2 1421.2)"/>
<rect class="k" x="654.5" y="1496.2" width="9" height="2.5" rx="1.25" transform="rotate(-43 659.0 1497.4)"/>
<rect class="k" x="662.0" y="1489.2" width="9" height="2.5" rx="1.25" transform="rotate(-43 666.5 1490.4)"/>
<rect class="k" x="669.5" y="1482.2" width="9" height="2.5" rx="1.25" transform="rotate(-43 674.0 1483.4)"/>
<rect class="k" x="677.0" y="1475.2" width="9" height="2.5" rx="1.25" transform="rotate(-43 681.5 1476.4)"/>
<rect class="k" x="684.5" y="1468.2" width="9" height="2.5" rx="1.25" transform="rotate(-43 689.0 1469.4)"/>
<rect class="k" x="692.0" y="1461.2" width="9" height="2.5" rx="1.25" transform="rotate(-43 696.5 1462.4)"/>
<rect class="k" x="699.5" y="1454.2" width="9" height="2.5" rx="1.25" transform="rotate(-43 704.0 1455.4)"/>
<rect class="k" x="707.0" y="1447.2" width="9" height="2.5" rx="1.25" transform="rotate(-43 711.5 1448.4)"/>
<rect class="k" x="714.5" y="1440.2" width="9" height="2.5" rx="1.25" transform="rotate(-43 719.0 1441.4)"/>
<rect class="k" x="722.0" y="1433.2" width="9" height="2.5" rx="1.25" transform="rotate(-43 726.5 1434.4)"/>
<rect class="k" x="729.5" y="1426.2" width="9" height="2.5" rx="1.25" transform="rotate(-43 734.0 1427.4)"/>
<rect class="k" x="660.8" y="1495.3" width="9" height="2.5" rx="1.25" transform="rotate(-43 665.2 1496.6)"/>
<rect class="k" x="668.2" y="1488.3" width="9" height="2.5" rx="1.25" transform="rotate(-43 672.8 1489.6)"/>
<rect class="k" x="675.8" y="1481.3" width="9" height="2.5" rx="1.25" transform="rotate(-43 680.2 1482.6)"/>
<rect class="k" x="683.2" y="1474.3" width="9" height="2.5" rx="1.25" transform="rotate(-43 687.8 1475.6)"/>
<rect class="k" x="690.8" y="1467.3" width="9" height="2.5" rx="1.25" transform="rotate(-43 695.2 1468.6)"/>
<rect class="k" x="698.2" y="1460.3" width="9" height="2.5" rx="1.25" transform="rotate(-43 702.8 1461.6)"/>
<rect class="k" x="705.8" y="1453.3" width="9" height="2.5" rx="1.25" transform="rotate(-43 710.2 1454.6)"/>
<rect class="k" x="713.2" y="1446.3" width="9" height="2.5" rx="1.25" transform="rotate(-43 717.8 1447.6)"/>
<rect class="k" x="720.8" y="1439.3" width="9" height="2.5" rx="1.25" transform="rotate(-43 725.2 1440.6)"/>
<rect class="k" x="728.2" y="1432.3" width="9" height="2.5" rx="1.25" transform="rotate(-43 732.8 1433.6)"/>
<rect class="k" x="735.8" y="1425.3" width="9" height="2.5" rx="1.25" transform="rotate(-43 740.2 1426.6)"/>
<circle class="k" cx="737" cy="1443.1" r="2.0"/>
<circle class="k" cx="737" cy="1443.1" r="1.0"/>
<circle class="k" cx="737" cy="1471.3" r="1.2"/>
<path class="k" d="M651.4,1502.8 L646.0,1510.0 L650.0,1514.0 L652.0,1530.0" />
<path class="k" d="M440.2,1475.2 Q437,1474.5 435.2,1476.8 L420.1,1490.2 L416.8,1488.5 L410.1,1493.5 L408.4,1498.5 L411.8,1500.2 L386.7,1530.2 Q386,1534 388.4,1535.3 L487.7,1590.3 L545.3,1535.2 Q546,1532 543.7,1531 Z" />
<path class="k" d="M487.7,1590.3 L484,1593 Q483,1597 486.5,1598 L491.4,1599.1 L497.7,1606.6 L546.5,1542.8 L545.3,1535.2" />
<circle class="k" cx="415.1" cy="1491.9" r="2.0"/>
<circle class="k" cx="415.1" cy="1491.9" r="1.0"/>
<path class="k" d="M450.5,1526 Q448.5,1520 452,1519 Q458,1517 466,1522 Q476,1529 480,1538 Q481,1542 478.5,1541.5 Q476,1533 467,1526 Q459,1521 454,1522.5 Q452.5,1524 453,1527 Z" />
<circle class="k" cx="461.9" cy="1597" r="1.8"/>
<circle class="k" cx="461.9" cy="1597" r="0.9"/>
<path class="k" d="M459.5,1600.0 L463.5,1608.7 L474.0,1600.0" />
<circle class="k" cx="612.1" cy="1510.2" r="1.9"/>
<circle class="k" cx="612.1" cy="1510.2" r="0.95"/>
<path class="k" d="M613.8,1513.6 L617.1,1526.9 L630.5,1520.2" />
<path class="g" d="M496.9,1610.4 L740,1396" />
<path class="k" d="M991.6,1374.5 L1019,1378 Q1027,1380 1029.2,1388 L1027.2,1421.1 L1020.2,1445.1 L1010.1,1456.2 L1013.2,1460.2 L980.1,1488.2" />
<path class="k" d="M991.6,1374.5 L990.1,1395.0 L994.1,1406.1 L977.1,1406.1 L934.0,1431.6 L936.0,1435.1 L938.0,1435.1 L946.0,1487.2" />
<path class="k" d="M936.0,1435.1 L942.5,1434.5 L943.0,1436.5" />
<path class="k" d="M946,1487.2 L958,1487.2 L961.1,1495.2 Q963,1499 966.1,1498.2 L975.1,1492.2" />
<path class="kt" d="M1022.7,1389 L1015.2,1440.1 Q1014,1445 1011.1,1446.1 L979.6,1472.7" />
<path class="k" d="M979.6,1472.7 L977.1,1470.2 L960.1,1479.7 Q958.5,1479 958.1,1477.2 L953,1441.1 Q953.5,1436.5 955,1435.1 L997.1,1410.1 Q1000,1407 1000.1,1404.1 L1001.1,1393 Q1002,1387.5 1005.1,1386.5 L1019,1386.5 Q1023,1387 1022.7,1389" />
<circle class="k" cx="963.5" cy="1436.0" r="1.05"/>
<circle class="k" cx="963.5" cy="1438.6" r="1.05"/>
<circle class="k" cx="963.5" cy="1441.2" r="1.05"/>
<circle class="k" cx="963.5" cy="1443.8" r="1.05"/>
<circle class="k" cx="963.5" cy="1446.4" r="1.05"/>
<circle class="k" cx="963.5" cy="1449.0" r="1.05"/>
<circle class="k" cx="963.5" cy="1451.6" r="1.05"/>
<circle class="k" cx="963.5" cy="1454.2" r="1.05"/>
<circle class="k" cx="965.6" cy="1436.3999999999999" r="1.05"/>
<circle class="k" cx="965.6" cy="1438.9999999999998" r="1.05"/>
<circle class="k" cx="965.6" cy="1441.6" r="1.05"/>
<circle class="k" cx="965.6" cy="1444.1999999999998" r="1.05"/>
<circle class="k" cx="965.6" cy="1446.8" r="1.05"/>
<circle class="k" cx="965.6" cy="1449.3999999999999" r="1.05"/>
<circle class="k" cx="965.6" cy="1451.9999999999998" r="1.05"/>
<circle class="k" cx="967.7" cy="1434.2" r="1.05"/>
<circle class="k" cx="967.7" cy="1436.8" r="1.05"/>
<circle class="k" cx="967.7" cy="1439.4" r="1.05"/>
<circle class="k" cx="967.7" cy="1442.0" r="1.05"/>
<circle class="k" cx="967.7" cy="1444.6000000000001" r="1.05"/>
<circle class="k" cx="967.7" cy="1447.2" r="1.05"/>
<circle class="k" cx="967.7" cy="1449.8" r="1.05"/>
<circle class="k" cx="967.7" cy="1452.4" r="1.05"/>
<circle class="k" cx="969.8" cy="1434.6" r="1.05"/>
<circle class="k" cx="969.8" cy="1437.1999999999998" r="1.05"/>
<circle class="k" cx="969.8" cy="1439.8" r="1.05"/>
<circle class="k" cx="969.8" cy="1442.3999999999999" r="1.05"/>
<circle class="k" cx="969.8" cy="1445.0" r="1.05"/>
<circle class="k" cx="969.8" cy="1447.6" r="1.05"/>
<circle class="k" cx="969.8" cy="1450.1999999999998" r="1.05"/>
<circle class="k" cx="969.8" cy="1452.8" r="1.05"/>
<circle class="k" cx="971.9" cy="1432.4" r="1.05"/>
<circle class="k" cx="971.9" cy="1435.0" r="1.05"/>
<circle class="k" cx="971.9" cy="1437.6000000000001" r="1.05"/>
<circle class="k" cx="971.9" cy="1440.2" r="1.05"/>
<circle class="k" cx="971.9" cy="1442.8000000000002" r="1.05"/>
<circle class="k" cx="971.9" cy="1445.4" r="1.05"/>
<circle class="k" cx="971.9" cy="1448.0" r="1.05"/>
<circle class="k" cx="971.9" cy="1450.6000000000001" r="1.05"/>
<circle class="k" cx="974.0" cy="1432.8" r="1.05"/>
<circle class="k" cx="974.0" cy="1435.3999999999999" r="1.05"/>
<circle class="k" cx="974.0" cy="1438.0" r="1.05"/>
<circle class="k" cx="974.0" cy="1440.6" r="1.05"/>
<circle class="k" cx="974.0" cy="1443.2" r="1.05"/>
<circle class="k" cx="974.0" cy="1445.8" r="1.05"/>
<circle class="k" cx="974.0" cy="1448.3999999999999" r="1.05"/>
<circle class="k" cx="974.0" cy="1451.0" r="1.05"/>
<circle class="k" cx="976.1" cy="1430.6" r="1.05"/>
<circle class="k" cx="976.1" cy="1433.1999999999998" r="1.05"/>
<circle class="k" cx="976.1" cy="1435.8" r="1.05"/>
<circle class="k" cx="976.1" cy="1438.3999999999999" r="1.05"/>
<circle class="k" cx="976.1" cy="1441.0" r="1.05"/>
<circle class="k" cx="976.1" cy="1443.6" r="1.05"/>
<circle class="k" cx="976.1" cy="1446.1999999999998" r="1.05"/>
<circle class="k" cx="976.1" cy="1448.8" r="1.05"/>
<path class="k" d="M962.6,1482 L974,1475.2 L975.1,1480 L963.6,1487.5 Z" />
<circle class="f" cx="970.5" cy="1479.5" r="1.3"/>
<circle class="f" cx="972.5" cy="1478" r="1.1"/>
<circle class="f" cx="966" cy="1495" r="0.9"/>
<path class="k" d="M985.1,1486.2 L989.1,1507.2 L975.0,1498.0" />
<path class="k" d="M767.7,1441.5 L806.1,1411.4 A1.7,1.7 0 0 0 804.1,1408.8 L765.7,1438.9 A1.7,1.7 0 0 0 767.7,1441.5 Z" />
<path class="k" d="M770.0,1405.1 L775.0,1420.1 L771.0,1428.0" />
<path class="g" d="M776.7,1411.8 L943.7,1420.1" />
<path class="g" d="M808.4,1411.8 L957.4,1490.6" />
<path class="g" d="M650.3,1531.0 L643.5,1542.3 L643.5,1576.1 L648.0,1578.3 L679.6,1564.8 L724.7,1545.6 L780.0,1510.0 L832.8,1470.2 L900.0,1431.8" />
<path class="g" d="M650.3,1531.0 L681.8,1547.9 L708.9,1543.4 L738.2,1528.7 L787.8,1499.5 L810.3,1479.2 L821.6,1470.2 L868.9,1434.1 L900.0,1418.0" />
<path class="g" d="M697.6,1540.0 L760.0,1500.0 L820.0,1460.0 L868.9,1418.3" />
<path class="g" d="M700.0,1533.0 L765.0,1492.0 L830.0,1450.0" />
<path class="g" d="M630.0,1513.0 L763.0,1434.0" />
<path class="g" d="M646.5,1545.0 L646.5,1575.0" />
<path class="g" d="M742.7,1380 Q744,1395 747.2,1398 Q755,1410 765.2,1413.8" />
<path class="g" d="M807.0,1478.0 L812.0,1468.0 L818.0,1470.0" />
<path class="g" d="M490.9,1416.8 L490.9,1437.6 L494.3,1440.6 L512.0,1450.0 L525.0,1460.0 L520.6,1467.7 L519.0,1500.7 L522.8,1506.7 L553.6,1491.7 L583.7,1478.2" />
<path class="g" d="M490.9,1416.8 L527.0,1393.4" />
<path class="g" d="M527.0,1393.4 L540.0,1386.0" />
<circle class="g" cx="519" cy="1470" r="1.2"/>
<path class="g" d="M703,1460 Q740,1470 770,1455" />
<path class="g" d="M753,1302 Q722,1312 715,1345 L716,1356" />
<path class="g" d="M758.4,1313.4 Q761,1340 736.7,1356.8" />
<path class="g" d="M793.5,1321.7 L820.2,1326.7 L825.2,1336.8 L820.2,1391.9" />
<path class="g" d="M793.5,1321.7 L771.8,1358.5 L770.1,1365.1 L778.5,1370.2 L818.5,1391.9" />
<ellipse class="g" cx="831.9" cy="1361" rx="4.5" ry="8" transform="rotate(20 831.9 1361)"/>
<circle class="g" cx="809.3" cy="1376.8" r="2.6"/>
<path class="k" d="M777,1358 L779.5,1361 L778,1364.5" />
<path class="g" d="M743.4,1383.5 Q745,1405 766.8,1418.6" />
<path class="g" d="M860,1372 Q880,1365 884,1386 Q885,1410 875,1422" />
<path class="g" d="M753.4,1300 L900,1386.8" />
<path class="g" d="M740,1350 Q728,1362 742,1382" />
<text transform="translate(94.0 26.5) scale(1 1.06)">3</text>
<text transform="translate(4.0 91.5) scale(1 1.06)">43</text>
<text transform="translate(1.5 180.5) scale(1 1.06)">28</text>
<text transform="translate(159.0 239.5) scale(1 1.06)">14</text>
<text transform="translate(301.0 68.5) scale(1 1.06)">3</text>
<text transform="translate(335.0 127.5) scale(1 1.06)">24</text>
<text transform="translate(395.0 166.5) scale(1 1.06)">29</text>
<text transform="translate(546.5 256.5) scale(1 1.06)">11</text>
<text transform="translate(519.0 329.5) scale(1 1.06)">10</text>
<text transform="translate(768.4 277.2) scale(1 1.06)">13</text>
<text transform="translate(792.1 523.5) scale(1 1.06)">21</text>
<text transform="translate(748.0 595.5) scale(1 1.06)">1</text>
<text transform="translate(551.5 624.5) scale(1 1.06)">46</text>
<text transform="translate(563.5 659.5) scale(1 1.06)">18</text>
<text transform="translate(568.0 693.5) scale(1 1.06)">45</text>
<text transform="translate(399.0 667.5) scale(1 1.06)">44</text>
<text transform="translate(476.3 774.5) scale(1 1.06)">49:2</text>
<text transform="translate(527.5 799.0) scale(1 1.06)">49</text>
<text transform="translate(567.7 823.9) scale(1 1.06)">49:3</text>
<text transform="translate(617.8 852.5) scale(1 1.06)">48</text>
<text transform="translate(335.0 934.5) scale(1 1.06)">50</text>
<text transform="translate(451.0 1000.2) scale(1 1.06)">25</text>
<text transform="translate(1072.0 937.9) scale(1 1.06)">9</text>
<text transform="translate(1123.0 970.0) scale(1 1.06)">8</text>
<text transform="translate(1171.9 1006.0) scale(1 1.06)">51</text>
<text transform="translate(897.5 967.3) scale(1 1.06)">13</text>
<text transform="translate(847.5 1001.5) scale(1 1.06)">23</text>
<text transform="translate(775.0 1054.1) scale(1 1.06)">11</text>
<text transform="translate(854.0 1103.5) scale(1 1.06)">22</text>
<text transform="translate(855.8 1155.3) scale(1 1.06)">19</text>
<text transform="translate(697.0 1097.5) scale(1 1.06)">3</text>
<text transform="translate(755.4 1103.0) scale(1 1.06)">28</text>
<text transform="translate(1125.6 1218.9) scale(1 1.06)">14</text>
<text transform="translate(1028.8 1276.2) scale(1 1.06)">20</text>
<text transform="translate(480.7 1207.9) scale(1 1.06)">17</text>
<text transform="translate(622.6 1186.5) scale(1 1.06)">26</text>
<text transform="translate(571.0 1298.5) scale(1 1.06)">26</text>
<text transform="translate(472.4 1327.5) scale(1 1.06)">33</text>
<text transform="translate(991.0 1347.5) scale(1 1.06)">26</text>
<text transform="translate(465.7 1374.9) scale(1 1.06)">31</text>
<text transform="translate(505.8 1363.5) scale(1 1.06)">10</text>
<text transform="translate(859.9 1501.5) scale(1 1.06)">26</text>
<text transform="translate(1051.0 1509.1) scale(1 1.06)">16</text>
<text transform="translate(1025.5 1538.2) scale(1 1.06)">16:2</text>
<text transform="translate(355.0 1586.8) scale(1 1.06)">32</text>
<text transform="translate(565.4 1564.1) scale(1 1.06)">13</text>
<text transform="translate(401.8 1634.3) scale(1 1.06)">13</text>
</svg></body></html>
